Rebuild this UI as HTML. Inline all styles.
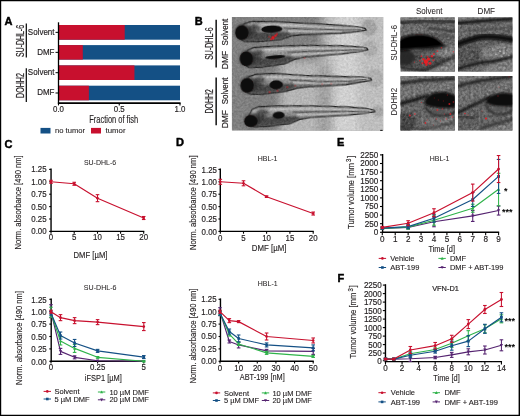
<!DOCTYPE html>
<html lang="en"><head><meta charset="utf-8"><title>Figure</title>
<style>
html,body{margin:0;padding:0;background:#fff;}
body{width:520px;height:416px;overflow:hidden;position:relative;}
svg{position:absolute;left:0;top:0;display:block;font-family:"Liberation Sans",sans-serif;}
</style></head><body>
<svg width="520" height="416" viewBox="0 0 520 416">
<path d="M0 0H520V416H0Z M1.2 1.2V414.65H518.6V1.2Z" fill="#000" fill-rule="evenodd"/>
<text x="4.5" y="24.6" font-size="11" font-weight="bold" fill="#000" stroke="#000" stroke-width="0.45" stroke-linejoin="round">A</text>
<text x="194.7" y="24.6" font-size="11" font-weight="bold" fill="#000" stroke="#000" stroke-width="0.45" stroke-linejoin="round">B</text>
<text x="4.4" y="147.9" font-size="11" font-weight="bold" fill="#000" stroke="#000" stroke-width="0.45" stroke-linejoin="round">C</text>
<text x="175.9" y="146.4" font-size="11" font-weight="bold" fill="#000" stroke="#000" stroke-width="0.45" stroke-linejoin="round">D</text>
<text x="337.0" y="145.9" font-size="11" font-weight="bold" fill="#000" stroke="#000" stroke-width="0.45" stroke-linejoin="round">E</text>
<text x="337.6" y="282.4" font-size="11" font-weight="bold" fill="#000" stroke="#000" stroke-width="0.45" stroke-linejoin="round">F</text>
<rect x="58.50" y="25.00" width="121.50" height="14.70" fill="#145085"/>
<rect x="58.50" y="25.00" width="66.22" height="14.70" fill="#c8102e"/>
<line x1="55.50" y1="32.35" x2="58.50" y2="32.35" stroke="#000" stroke-width="1"/>
<text transform="translate(54.5 35.25) scale(0.87 1)" font-size="9.2" text-anchor="end" fill="#231f20" stroke="#231f20" stroke-width="0.18">Solvent</text>
<rect x="58.50" y="45.10" width="121.50" height="14.50" fill="#145085"/>
<rect x="58.50" y="45.10" width="24.30" height="14.50" fill="#c8102e"/>
<line x1="55.50" y1="52.35" x2="58.50" y2="52.35" stroke="#000" stroke-width="1"/>
<text transform="translate(54.5 55.25) scale(0.87 1)" font-size="9.2" text-anchor="end" fill="#231f20" stroke="#231f20" stroke-width="0.18">DMF</text>
<rect x="58.50" y="65.40" width="121.50" height="14.60" fill="#145085"/>
<rect x="58.50" y="65.40" width="75.94" height="14.60" fill="#c8102e"/>
<line x1="55.50" y1="72.70" x2="58.50" y2="72.70" stroke="#000" stroke-width="1"/>
<text transform="translate(54.5 74.80000000000001) scale(0.87 1)" font-size="9.2" text-anchor="end" fill="#231f20" stroke="#231f20" stroke-width="0.18">Solvent</text>
<rect x="58.50" y="85.70" width="121.50" height="14.60" fill="#145085"/>
<rect x="58.50" y="85.70" width="30.38" height="14.60" fill="#c8102e"/>
<line x1="55.50" y1="93.00" x2="58.50" y2="93.00" stroke="#000" stroke-width="1"/>
<text transform="translate(54.5 95.10000000000001) scale(0.87 1)" font-size="9.2" text-anchor="end" fill="#231f20" stroke="#231f20" stroke-width="0.18">DMF</text>
<line x1="58.50" y1="22.30" x2="58.50" y2="103.80" stroke="#000" stroke-width="1.3"/>
<line x1="57.90" y1="103.10" x2="180.60" y2="103.10" stroke="#000" stroke-width="1.6"/>
<line x1="58.50" y1="103.20" x2="58.50" y2="105.40" stroke="#000" stroke-width="1.1"/>
<text transform="translate(58.5 112.1) scale(0.915 1)" font-size="8.62" text-anchor="middle" fill="#231f20" stroke="#231f20" stroke-width="0.18">0.0</text>
<line x1="119.25" y1="103.20" x2="119.25" y2="105.40" stroke="#000" stroke-width="1.1"/>
<text transform="translate(119.25 112.1) scale(0.915 1)" font-size="8.62" text-anchor="middle" fill="#231f20" stroke="#231f20" stroke-width="0.18">0.5</text>
<line x1="180.00" y1="103.20" x2="180.00" y2="105.40" stroke="#000" stroke-width="1.1"/>
<text transform="translate(180.0 112.1) scale(0.915 1)" font-size="8.62" text-anchor="middle" fill="#231f20" stroke="#231f20" stroke-width="0.18">1.0</text>
<text transform="translate(113.7 123)" font-size="10.35" text-anchor="middle" textLength="49" lengthAdjust="spacingAndGlyphs" fill="#231f20" stroke="#231f20" stroke-width="0.14">Fraction of fish</text>
<rect x="40.50" y="127.90" width="10.00" height="5.60" fill="#145085"/>
<text transform="translate(55 133.3)" font-size="7.6" textLength="30" lengthAdjust="spacingAndGlyphs" fill="#231f20" stroke="#231f20" stroke-width="0.1">no tumor</text>
<rect x="91.00" y="127.90" width="10.00" height="5.60" fill="#c8102e"/>
<text transform="translate(105.5 133.3)" font-size="7.6" textLength="20" lengthAdjust="spacingAndGlyphs" fill="#231f20" stroke="#231f20" stroke-width="0.1">tumor</text>
<line x1="26.30" y1="23.50" x2="26.30" y2="57.50" stroke="#000" stroke-width="1.2"/>
<line x1="26.30" y1="68.20" x2="26.30" y2="102.00" stroke="#000" stroke-width="1.2"/>
<text transform="translate(23.7 41) rotate(-90)" font-size="10.7" text-anchor="middle" textLength="32" lengthAdjust="spacingAndGlyphs" fill="#231f20" stroke="#231f20" stroke-width="0.22">SU-DHL-6</text>
<text transform="translate(23.7 85.5) rotate(-90)" font-size="10.7" text-anchor="middle" textLength="25" lengthAdjust="spacingAndGlyphs" fill="#231f20" stroke="#231f20" stroke-width="0.22">DOHH2</text>
<defs><filter id="b1" x="-30%" y="-30%" width="160%" height="160%"><feGaussianBlur stdDeviation="1.4"/></filter><filter id="b2" x="-30%" y="-30%" width="160%" height="160%"><feGaussianBlur stdDeviation="0.55"/></filter><filter id="b3" x="-30%" y="-30%" width="160%" height="160%"><feGaussianBlur stdDeviation="4"/></filter><linearGradient id="fb" gradientUnits="userSpaceOnUse" x1="0" x2="0" y1="-11" y2="10"><stop offset="0" stop-color="#808080"/><stop offset="0.2" stop-color="#b2b2b2"/><stop offset="0.4" stop-color="#8e8e8e"/><stop offset="0.55" stop-color="#a8a8a8"/><stop offset="0.68" stop-color="#6a6a6a"/><stop offset="1" stop-color="#626262"/></linearGradient><filter id="nz2" x="0" y="0" width="100%" height="100%" color-interpolation-filters="sRGB"><feTurbulence type="fractalNoise" baseFrequency="0.45" numOctaves="2" seed="11"/><feColorMatrix type="matrix" values="1 1 1 0 -1.0  1 1 1 0 -1.0  1 1 1 0 -1.0  0 0 0 0 0.1"/><feGaussianBlur stdDeviation="0.5"/></filter><clipPath id="cB"><rect x="231.7" y="17.1" width="151.5" height="113.3"/></clipPath></defs>
<g clip-path="url(#cB)">
<rect x="231.70" y="17.00" width="152.00" height="114.00" fill="#808080"/>
<g filter="url(#b3)">
<rect x="280.00" y="60.00" width="120.00" height="80.00" fill="#bcbcbc"/>
<rect x="322.00" y="10.00" width="70.00" height="60.00" fill="#c0c0c0"/>
<rect x="318.00" y="66.00" width="13.00" height="80.00" fill="#a0a0a0"/>
<rect x="334.00" y="10.00" width="24.00" height="130.00" fill="#dadada"/>
<rect x="360.00" y="10.00" width="30.00" height="130.00" fill="#c6c6c6"/>
</g>
<g transform="translate(241.9 32.6) rotate(-1.66)">
<ellipse cx="127.15220497437812" cy="-1" rx="7" ry="7.5" fill="#a8a8a8" stroke="#8a8a8a" stroke-width="0.8" filter="url(#b4)"/>
<path d="M2.0 -8.3L9.0 -10.6L28.0 -10.4L58.1 -7.8L98.1 -4.6L115.2 -2.5L123.2 -0.7L124.2 1.2L115.2 2.3L98.1 3.6L60.1 3.8L49.1 4.9L38.0 8.2L14.0 9.6L2.0 8.8L-5.0 4.0Z" fill="url(#fb)" stroke="#1e1e1e" stroke-width="1.25" stroke-linejoin="round" filter="url(#b2)"/>
<path d="M6.0 -1L46.1 0.5L48.1 4L37.0 7.4L14.0 8.6L4.0 7Z" fill="#3e3e3e" opacity="0.9" filter="url(#b4)"/>
<ellipse cx="12.0" cy="-2.5" rx="6.5" ry="5.5" fill="#333" opacity="0.8" filter="url(#b4)"/>
<ellipse cx="17.0" cy="-1.5" rx="3" ry="2.6" fill="#8a8a8a" opacity="0.6" filter="url(#b4)"/>
<path d="M20.0 -7.4L60.1 -4.8L100.1 -1.6L120.2 -0.4" fill="none" stroke="#c8c8c8" stroke-width="1.5" opacity="0.85" filter="url(#b2)"/>
<path d="M42.1 -3.2L70.1 -1.2L100.1 0.2L119.2 0.3" fill="none" stroke="#3a3a3a" stroke-width="1.0" opacity="0.8" filter="url(#b2)"/>
<path d="M46.1 -0.4L70.1 1.2L100.1 1.6" fill="none" stroke="#c4c4c4" stroke-width="1.3" opacity="0.8" filter="url(#b2)"/>
</g>
<g transform="translate(246.4 58.8) rotate(-4.62)">
<ellipse cx="123.79490958164057" cy="0" rx="6.5" ry="7" fill="#b4b4b4" stroke="#8a8a8a" stroke-width="0.8" filter="url(#b4)"/>
<path d="M2.0 -8.3L8.8 -10.6L27.5 -10.4L57.0 -8.6L96.3 -5.4L112.8 -2.8L120.8 -1.0L121.8 0.9L112.8 2.0L96.3 2.8L58.9 3.0L48.1 4.4L37.3 8.2L13.8 9.6L2.0 8.8L-4.9 4.0Z" fill="url(#fb)" stroke="#1e1e1e" stroke-width="1.25" stroke-linejoin="round" filter="url(#b2)"/>
<path d="M5.9 -1L45.2 0.5L47.1 4L36.3 7.4L13.8 8.6L3.9 7Z" fill="#3e3e3e" opacity="0.9" filter="url(#b4)"/>
<ellipse cx="11.8" cy="-2.5" rx="6.5" ry="5.5" fill="#333" opacity="0.8" filter="url(#b4)"/>
<ellipse cx="16.7" cy="-1.5" rx="3" ry="2.6" fill="#8a8a8a" opacity="0.6" filter="url(#b4)"/>
<path d="M19.6 -7.4L58.9 -5.6L98.2 -2.4L117.8 -0.4" fill="none" stroke="#c8c8c8" stroke-width="1.5" opacity="0.85" filter="url(#b2)"/>
<path d="M41.3 -3.2L68.8 -2.0L98.2 -0.6L116.8 0.3" fill="none" stroke="#3a3a3a" stroke-width="1.0" opacity="0.8" filter="url(#b2)"/>
<path d="M45.2 -0.4L68.8 0.4L98.2 0.8" fill="none" stroke="#c4c4c4" stroke-width="1.3" opacity="0.8" filter="url(#b2)"/>
</g>
<g transform="translate(247.2 85.4) rotate(-3.17)">
<ellipse cx="127.69105821990605" cy="0" rx="7" ry="8" fill="#b8b8b8" stroke="#8a8a8a" stroke-width="0.8" filter="url(#b4)"/>
<path d="M2.0 -8.3L9.1 -10.6L28.2 -10.4L58.3 -6.6L98.5 -3.4L115.7 -2.0L123.7 -0.2L124.7 1.7L115.7 2.8L98.5 4.8L60.3 5.0L49.3 5.6L38.2 8.2L14.1 9.6L2.0 8.8L-5.0 4.0Z" fill="url(#fb)" stroke="#1e1e1e" stroke-width="1.25" stroke-linejoin="round" filter="url(#b2)"/>
<path d="M6.0 -1L46.3 0.5L48.3 4L37.2 7.4L14.1 8.6L4.0 7Z" fill="#3e3e3e" opacity="0.9" filter="url(#b4)"/>
<ellipse cx="12.1" cy="-2.5" rx="6.5" ry="5.5" fill="#333" opacity="0.8" filter="url(#b4)"/>
<ellipse cx="17.1" cy="-1.5" rx="3" ry="2.6" fill="#8a8a8a" opacity="0.6" filter="url(#b4)"/>
<path d="M20.1 -7.4L60.3 -3.6L100.6 -0.4L120.7 -0.4" fill="none" stroke="#c8c8c8" stroke-width="1.5" opacity="0.85" filter="url(#b2)"/>
<path d="M42.2 -3.2L70.4 0.0L100.6 1.4L119.7 0.3" fill="none" stroke="#3a3a3a" stroke-width="1.0" opacity="0.8" filter="url(#b2)"/>
<path d="M46.3 -0.4L70.4 2.4L100.6 2.8" fill="none" stroke="#c4c4c4" stroke-width="1.3" opacity="0.8" filter="url(#b2)"/>
</g>
<g transform="translate(250.7 117.8) rotate(-3.23)">
<ellipse cx="127.7972646521234" cy="1" rx="4.8" ry="4.8" fill="#acacac" stroke="#8a8a8a" stroke-width="0.8" filter="url(#b4)"/>
<path d="M2.0 -8.3L9.0 -10.6L28.1 -10.4L58.1 -8.6L98.2 -5.4L115.3 -2.8L123.3 -1.0L124.3 0.9L115.3 2.0L98.2 2.8L60.1 3.0L49.1 4.4L38.1 8.2L14.0 9.6L2.0 8.8L-5.0 4.0Z" fill="url(#fb)" stroke="#1e1e1e" stroke-width="1.25" stroke-linejoin="round" filter="url(#b2)"/>
<path d="M6.0 -1L46.1 0.5L48.1 4L37.1 7.4L14.0 8.6L4.0 7Z" fill="#3e3e3e" opacity="0.9" filter="url(#b4)"/>
<ellipse cx="12.0" cy="-2.5" rx="6.5" ry="5.5" fill="#333" opacity="0.8" filter="url(#b4)"/>
<ellipse cx="17.0" cy="-1.5" rx="3" ry="2.6" fill="#8a8a8a" opacity="0.6" filter="url(#b4)"/>
<path d="M20.0 -7.4L60.1 -5.6L100.2 -2.4L120.3 -0.4" fill="none" stroke="#c8c8c8" stroke-width="1.5" opacity="0.85" filter="url(#b2)"/>
<path d="M42.1 -3.2L70.2 -2.0L100.2 -0.6L119.3 0.3" fill="none" stroke="#3a3a3a" stroke-width="1.0" opacity="0.8" filter="url(#b2)"/>
<path d="M46.1 -0.4L70.2 0.4L100.2 0.8" fill="none" stroke="#c4c4c4" stroke-width="1.3" opacity="0.8" filter="url(#b2)"/>
</g>
<rect x="231" y="16" width="153" height="115" filter="url(#nz2)"/>
<g transform="translate(241.9 32.6) rotate(-1.66)">
<ellipse cx="30" cy="-2.6" rx="10.5" ry="3.6" fill="#0f0b0b" filter="url(#b2)"/>
<ellipse cx="1.5" cy="-0.5" rx="8.6" ry="8.2" fill="#2a2a2a" opacity="0.7" filter="url(#b4)"/>
<ellipse cx="0" cy="0" rx="6.6" ry="7.3" fill="#0b0909" filter="url(#b2)"/>
<circle cx="31" cy="6" r="1.7" fill="#e8141c" opacity="0.95" filter="url(#b2)"/>
<circle cx="33.5" cy="4" r="1.2" fill="#e8141c" opacity="0.9" filter="url(#b2)"/>
<circle cx="29" cy="7.5" r="1.0" fill="#e8141c" opacity="0.8" filter="url(#b2)"/>
<circle cx="35" cy="2.5" r="0.9" fill="#e8141c" opacity="0.8" filter="url(#b2)"/>
<circle cx="27" cy="5" r="0.8" fill="#e8141c" opacity="0.6" filter="url(#b2)"/>
</g>
<g transform="translate(246.4 58.8) rotate(-4.62)">
<ellipse cx="29" cy="0.6" rx="10" ry="1.8" fill="#0f0b0b" filter="url(#b2)"/>
<ellipse cx="1.5" cy="-0.5" rx="8.6" ry="8.2" fill="#2a2a2a" opacity="0.7" filter="url(#b4)"/>
<ellipse cx="0" cy="0" rx="6.6" ry="7.3" fill="#0b0909" filter="url(#b2)"/>
<circle cx="58" cy="4" r="0.7" fill="#e8141c" opacity="0.6" filter="url(#b2)"/>
</g>
<g transform="translate(247.2 85.4) rotate(-3.17)">
<ellipse cx="29" cy="1" rx="6.8" ry="4.4" fill="#0f0b0b" filter="url(#b2)"/>
<ellipse cx="1.5" cy="-0.5" rx="8.6" ry="8.2" fill="#2a2a2a" opacity="0.7" filter="url(#b4)"/>
<ellipse cx="0" cy="0" rx="6.6" ry="7.3" fill="#0b0909" filter="url(#b2)"/>
<circle cx="22" cy="8" r="1.0" fill="#e8141c" opacity="0.5" filter="url(#b2)"/>
<circle cx="30" cy="7" r="0.9" fill="#e8141c" opacity="0.5" filter="url(#b2)"/>
<circle cx="40" cy="4" r="0.9" fill="#e8141c" opacity="0.5" filter="url(#b2)"/>
<circle cx="48" cy="3" r="0.8" fill="#e8141c" opacity="0.5" filter="url(#b2)"/>
<circle cx="75" cy="3" r="0.7" fill="#e8141c" opacity="0.5" filter="url(#b2)"/>
<circle cx="84" cy="3" r="0.7" fill="#e8141c" opacity="0.5" filter="url(#b2)"/>
</g>
<g transform="translate(250.7 117.8) rotate(-3.23)">
<ellipse cx="28" cy="-1.0" rx="6.0" ry="3.6" fill="#0f0b0b" filter="url(#b2)"/>
<ellipse cx="1.5" cy="2.7" rx="8.6" ry="6.9" fill="#2a2a2a" opacity="0.7" filter="url(#b4)"/>
<ellipse cx="0" cy="3.2" rx="6.6" ry="6.0" fill="#0b0909" filter="url(#b2)"/>
</g>
</g>
<defs><clipPath id="cP"><rect x="0" y="0" width="54.4" height="54.4"/></clipPath><filter id="b4" x="-30%" y="-30%" width="160%" height="160%"><feGaussianBlur stdDeviation="0.9"/></filter><filter id="nz" x="0" y="0" width="100%" height="100%" color-interpolation-filters="sRGB"><feTurbulence type="fractalNoise" baseFrequency="0.38" numOctaves="2" seed="7"/><feColorMatrix type="matrix" values="1 1 1 0 -1.1  1 1 1 0 -1.1  1 1 1 0 -1.1  0 0 0 0 0.22"/><feGaussianBlur stdDeviation="0.6"/></filter></defs>
<rect x="380.20" y="129.90" width="2.40" height="1.00" fill="#1a1a1a"/>
<g transform="translate(400.4 17.2)" clip-path="url(#cP)">
<rect x="0.00" y="0.00" width="55.00" height="55.00" fill="#626262"/>
<path d="M-2 0H56V3L-2 4Z" fill="#828282" filter="url(#b4)"/>
<path d="M-2 9H56V19L30 16L-2 19Z" fill="#707070" filter="url(#b4)"/>
<path d="M-2 36V47L20 54H56V40Z" fill="#4c4c4c" filter="url(#b4)"/>
<path d="M37 29L56 28V40L46 41L36 37Z" fill="#848484" filter="url(#b4)"/>
<path d="M27 54L56 41V56H24Z" fill="#898989" filter="url(#b4)"/>
<rect x="0" y="0" width="55" height="55" filter="url(#nz)"/>
<path d="M-2 5.4C15 4 35 3.6 56 4.6" fill="none" stroke="#1c1c1c" stroke-width="2.2" stroke-linecap="round" filter="url(#b4)"/>
<path d="M28 11L56 14.5" fill="none" stroke="#2a2a2a" stroke-width="1.7" stroke-linecap="round" filter="url(#b4)"/>
<path d="M35 17L56 20" fill="none" stroke="#404040" stroke-width="1.2" stroke-linecap="round" filter="url(#b4)"/>
<path d="M-2 49L10 52L25 53L40 46L56 38" fill="none" stroke="#222" stroke-width="2" stroke-linecap="round" filter="url(#b4)"/>
<path d="M-2 31L9 32L16 39L10 48L-2 48Z" fill="#262626" opacity="0.95" filter="url(#b4)"/>
<path d="M-3 23C2 19 10 17 18 17C26 17 34 18 40 24C43 27 45 28 46 29C40 31 30 32 20 32C10 32 2 34 -3 35Z" fill="#0b0909" filter="url(#b4)"/>
<path d="M0 24C6 20 12 19 20 19C28 19 35 21 41 27C34 29 10 30 0 31Z" fill="#060505" filter="url(#b2)"/>
<path d="M16 35C24 34 34 33 46 29" fill="none" stroke="#333" stroke-width="2.2" stroke-linecap="round" opacity="0.7" filter="url(#b4)"/>
<circle cx="25.5" cy="44.5" r="2.2" fill="#ee1c24" opacity="0.95" filter="url(#b2)"/>
<circle cx="28" cy="42" r="1.6" fill="#ee1c24" opacity="0.9" filter="url(#b2)"/>
<circle cx="23" cy="42" r="1.3" fill="#ee1c24" opacity="0.85" filter="url(#b2)"/>
<circle cx="29.5" cy="46" r="1.5" fill="#ee1c24" opacity="0.85" filter="url(#b2)"/>
<circle cx="26" cy="47.5" r="1.3" fill="#ee1c24" opacity="0.8" filter="url(#b2)"/>
<circle cx="22" cy="46" r="1.0" fill="#ee1c24" opacity="0.8" filter="url(#b2)"/>
<circle cx="31.5" cy="39" r="1.2" fill="#ee1c24" opacity="0.8" filter="url(#b2)"/>
<circle cx="33.5" cy="36.8" r="1.1" fill="#ee1c24" opacity="0.75" filter="url(#b2)"/>
<circle cx="21" cy="39" r="0.9" fill="#ee1c24" opacity="0.7" filter="url(#b2)"/>
<circle cx="19.5" cy="43.5" r="0.8" fill="#ee1c24" opacity="0.7" filter="url(#b2)"/>
<circle cx="37" cy="34" r="0.9" fill="#ee1c24" opacity="0.65" filter="url(#b2)"/>
<circle cx="41" cy="30.5" r="0.8" fill="#ee1c24" opacity="0.6" filter="url(#b2)"/>
<circle cx="33" cy="43" r="1.0" fill="#ee1c24" opacity="0.7" filter="url(#b2)"/>
<circle cx="53" cy="34.5" r="0.7" fill="#ee1c24" opacity="0.6" filter="url(#b2)"/>
<circle cx="14" cy="45" r="0.6" fill="#ee1c24" opacity="0.5" filter="url(#b2)"/>
<circle cx="27" cy="39.5" r="0.9" fill="#ee1c24" opacity="0.7" filter="url(#b2)"/>
</g>
<g transform="translate(458 17.2)" clip-path="url(#cP)">
<rect x="0.00" y="0.00" width="55.00" height="55.00" fill="#606060"/>
<path d="M-2 0H56V0.6L-2 3.6Z" fill="#808080" filter="url(#b4)"/>
<path d="M-2 10L56 5V16L25 17L-2 22Z" fill="#696969" filter="url(#b4)"/>
<path d="M24 31L40 27L56 27V41L30 43L24 40Z" fill="#808080" filter="url(#b4)"/>
<path d="M-2 31L20 28L24 44L-2 50Z" fill="#505050" filter="url(#b4)"/>
<path d="M30 48L56 42V56H10Z" fill="#848484" filter="url(#b4)"/>
<path d="M-2 56H20L30 50L-2 55Z" fill="#6d6d6d" filter="url(#b4)"/>
<rect x="0" y="0" width="55" height="55" filter="url(#nz)"/>
<path d="M-2 6C12 5 35 2.4 56 1.6" fill="none" stroke="#141414" stroke-width="2.8" stroke-linecap="round" filter="url(#b4)"/>
<path d="M10 13.5C30 13 45 10.5 56 10.5" fill="none" stroke="#3a3a3a" stroke-width="1.1" stroke-linecap="round" filter="url(#b4)"/>
<path d="M-2 28C6 25 14 22 20 20.5C30 18.6 40 20 56 23" fill="none" stroke="#2a2a2a" stroke-width="6.5" stroke-linecap="round" opacity="0.7" filter="url(#b4)"/>
<path d="M-2 27.5C6 24.5 14 22 22 20C30 18.6 42 20 56 22.6" fill="none" stroke="#0b0b0b" stroke-width="4.4" stroke-linecap="round" filter="url(#b4)"/>
<path d="M-2 52.5C8 49 16 46 26 45C36 44 46 42.5 56 38.8" fill="none" stroke="#151515" stroke-width="2.6" stroke-linecap="round" filter="url(#b4)"/>
<circle cx="42" cy="34" r="0.8" fill="#dcdcdc" opacity="0.9" filter="url(#b2)"/>
<circle cx="46" cy="36" r="0.7" fill="#dcdcdc" opacity="0.9" filter="url(#b2)"/>
<circle cx="38" cy="37" r="0.7" fill="#dcdcdc" opacity="0.8" filter="url(#b2)"/>
<circle cx="49" cy="33" r="0.6" fill="#dcdcdc" opacity="0.8" filter="url(#b2)"/>
<circle cx="44" cy="39" r="0.6" fill="#dcdcdc" opacity="0.8" filter="url(#b2)"/>
<circle cx="35" cy="33" r="0.6" fill="#dcdcdc" opacity="0.7" filter="url(#b2)"/>
<circle cx="51" cy="38" r="0.6" fill="#dcdcdc" opacity="0.8" filter="url(#b2)"/>
<circle cx="40" cy="31" r="0.6" fill="#dcdcdc" opacity="0.7" filter="url(#b2)"/>
<circle cx="47" cy="30" r="0.6" fill="#dcdcdc" opacity="0.7" filter="url(#b2)"/>
</g>
<g transform="translate(400.4 76)" clip-path="url(#cP)">
<rect x="0.00" y="0.00" width="55.00" height="55.00" fill="#646464"/>
<path d="M-2 0H56V1.6L-2 5Z" fill="#7d7d7d" filter="url(#b4)"/>
<path d="M-2 11L56 5V14L24 17L-2 24Z" fill="#767676" filter="url(#b4)"/>
<path d="M-2 38L12 36L16 46L10 56H-2Z" fill="#3e3e3e" filter="url(#b4)"/>
<path d="M20 44L56 40V50L30 52Z" fill="#727272" filter="url(#b4)"/>
<path d="M16 56L56 49V56Z" fill="#808080" filter="url(#b4)"/>
<rect x="0" y="0" width="55" height="55" filter="url(#nz)"/>
<path d="M-2 8C10 5.6 30 3.4 56 2.4" fill="none" stroke="#1a1a1a" stroke-width="2.3" stroke-linecap="round" filter="url(#b4)"/>
<path d="M-2 28C8 26 16 23.5 26 20" fill="none" stroke="#141414" stroke-width="3" stroke-linecap="round" filter="url(#b4)"/>
<path d="M24 26C25 20 32 16 41 16C48 16 54 18.6 57 21V31C50 32.6 40 32.6 32 31C27 30 24 29 24 26Z" fill="#0a0808" filter="url(#b4)"/>
<path d="M25 31C28 38 38 41.5 50 38.5C53 37.5 55 35 56 33" fill="none" stroke="#222" stroke-width="2" stroke-linecap="round" filter="url(#b4)"/>
<path d="M31 34L50 33.5L45 38L35 38Z" fill="#525252" opacity="0.8" filter="url(#b4)"/>
<path d="M-2 51L10 52L24 53L40 50L56 46" fill="none" stroke="#3a3a3a" stroke-width="1.6" stroke-linecap="round" filter="url(#b4)"/>
<circle cx="9.5" cy="39.5" r="0.9" fill="#ee1c24" opacity="0.8" filter="url(#b2)"/>
<circle cx="14.5" cy="38" r="0.8" fill="#ee1c24" opacity="0.8" filter="url(#b2)"/>
<circle cx="21" cy="26.5" r="0.6" fill="#ee1c24" opacity="0.6" filter="url(#b2)"/>
<circle cx="37" cy="34" r="0.9" fill="#ee1c24" opacity="0.7" filter="url(#b2)"/>
<circle cx="42" cy="33" r="0.7" fill="#ee1c24" opacity="0.6" filter="url(#b2)"/>
<circle cx="49" cy="28" r="1.0" fill="#ee1c24" opacity="0.7" filter="url(#b2)"/>
<circle cx="53" cy="26" r="0.8" fill="#ee1c24" opacity="0.6" filter="url(#b2)"/>
<circle cx="47" cy="19" r="0.6" fill="#ee1c24" opacity="0.5" filter="url(#b2)"/>
<circle cx="50" cy="38" r="1.0" fill="#ee1c24" opacity="0.7" filter="url(#b2)"/>
<circle cx="52" cy="41" r="0.8" fill="#ee1c24" opacity="0.6" filter="url(#b2)"/>
<circle cx="44" cy="38" r="0.6" fill="#ee1c24" opacity="0.5" filter="url(#b2)"/>
<circle cx="36" cy="43" r="0.7" fill="#ee1c24" opacity="0.5" filter="url(#b2)"/>
<circle cx="40" cy="45" r="0.6" fill="#ee1c24" opacity="0.5" filter="url(#b2)"/>
<circle cx="25" cy="47" r="0.9" fill="#ee1c24" opacity="0.7" filter="url(#b2)"/>
<circle cx="27" cy="44" r="0.6" fill="#ee1c24" opacity="0.5" filter="url(#b2)"/>
<circle cx="33" cy="49" r="0.5" fill="#ee1c24" opacity="0.4" filter="url(#b2)"/>
<circle cx="46" cy="43" r="0.7" fill="#ee1c24" opacity="0.5" filter="url(#b2)"/>
<circle cx="38" cy="24" r="0.7" fill="#ee1c24" opacity="0.25" filter="url(#b2)"/>
<circle cx="43" cy="25" r="0.7" fill="#ee1c24" opacity="0.25" filter="url(#b2)"/>
<circle cx="34" cy="22" r="0.7" fill="#ee1c24" opacity="0.2" filter="url(#b2)"/>
</g>
<g transform="translate(458 76)" clip-path="url(#cP)">
<rect x="0.00" y="0.00" width="55.00" height="55.00" fill="#666666"/>
<path d="M-2 0H40L-2 8Z" fill="#7a7a7a" filter="url(#b4)"/>
<path d="M-2 15L56 4V14L24 20L-2 30Z" fill="#727272" filter="url(#b4)"/>
<path d="M-2 40L20 34L22 50L-2 54Z" fill="#5c5c5c" filter="url(#b4)"/>
<path d="M20 56L56 45V56Z" fill="#7e7e7e" filter="url(#b4)"/>
<rect x="0" y="0" width="55" height="55" filter="url(#nz)"/>
<path d="M-2 10.5C10 7 30 3 56 0.4" fill="none" stroke="#1a1a1a" stroke-width="2.5" stroke-linecap="round" filter="url(#b4)"/>
<path d="M-2 37.5C8 33 18 28 31 21.5" fill="none" stroke="#181818" stroke-width="2.8" stroke-linecap="round" filter="url(#b4)"/>
<path d="M28 24.5C30 19.5 38 17 46 17C52 17 56 18 58 19V30C50 31 41 31 35 29.5C31 28.5 27.5 27.5 28 24.5Z" fill="#0a0808" filter="url(#b4)"/>
<path d="M28 28C29 36 38 40.5 48 37.5C52 36.3 55 33.5 56 31.5" fill="none" stroke="#262626" stroke-width="2" stroke-linecap="round" filter="url(#b4)"/>
<path d="M33 30.5L52 31L46 35.5L36 35Z" fill="#545454" opacity="0.8" filter="url(#b4)"/>
<path d="M23 30C21 38 25 46 23 54" fill="none" stroke="#484848" stroke-width="1.4" stroke-linecap="round" filter="url(#b4)"/>
<path d="M-2 41C4 40.4 10 40 16 42" fill="none" stroke="#2c2c2c" stroke-width="2" stroke-linecap="round" filter="url(#b4)"/>
<path d="M24 52L40 47L56 42.5" fill="none" stroke="#2e2e2e" stroke-width="2.2" stroke-linecap="round" filter="url(#b4)"/>
<circle cx="28" cy="42.5" r="1.1" fill="#ee1c24" opacity="0.85" filter="url(#b2)"/>
<circle cx="7" cy="37.5" r="0.8" fill="#ee1c24" opacity="0.7" filter="url(#b2)"/>
<circle cx="10" cy="39" r="0.6" fill="#ee1c24" opacity="0.5" filter="url(#b2)"/>
<circle cx="40" cy="20" r="0.7" fill="#ee1c24" opacity="0.4" filter="url(#b2)"/>
<circle cx="41" cy="11" r="0.6" fill="#ee1c24" opacity="0.4" filter="url(#b2)"/>
<circle cx="24" cy="35" r="0.6" fill="#ee1c24" opacity="0.4" filter="url(#b2)"/>
<circle cx="51" cy="0.8" r="0.6" fill="#ee1c24" opacity="0.5" filter="url(#b2)"/>
</g>
<text transform="translate(429.3 14.2)" font-size="9" text-anchor="middle" textLength="26.5" lengthAdjust="spacingAndGlyphs" fill="#231f20" stroke="#231f20" stroke-width="0.05">Solvent</text>
<text transform="translate(486.3 14.2)" font-size="9" text-anchor="middle" textLength="17.5" lengthAdjust="spacingAndGlyphs" fill="#231f20" stroke="#231f20" stroke-width="0.05">DMF</text>
<text transform="translate(396.7 42.8) rotate(-90)" font-size="8.9" text-anchor="middle" textLength="35.4" lengthAdjust="spacingAndGlyphs" fill="#231f20" stroke="#231f20" stroke-width="0.05">SU-DHL-6</text>
<text transform="translate(396.9 101.6) rotate(-90)" font-size="8.9" text-anchor="middle" textLength="27.6" lengthAdjust="spacingAndGlyphs" fill="#231f20" stroke="#231f20" stroke-width="0.05">DOHH2</text>
<line x1="216.15" y1="19.80" x2="216.15" y2="67.40" stroke="#000" stroke-width="1.4"/>
<line x1="216.15" y1="77.40" x2="216.15" y2="125.20" stroke="#000" stroke-width="1.4"/>
<text transform="translate(213.3 43.6) rotate(-90)" font-size="10.58" text-anchor="middle" textLength="32.5" lengthAdjust="spacingAndGlyphs" fill="#231f20" stroke="#231f20" stroke-width="0.2">SU-DHL-6</text>
<text transform="translate(213.3 101.3) rotate(-90)" font-size="10.58" text-anchor="middle" textLength="24.3" lengthAdjust="spacingAndGlyphs" fill="#231f20" stroke="#231f20" stroke-width="0.2">DOHH2</text>
<text transform="translate(228.0 32.1) rotate(-90) scale(0.93 1)" font-size="8.62" text-anchor="middle" fill="#231f20" stroke="#231f20" stroke-width="0.18">Solvent</text>
<text transform="translate(228.0 60) rotate(-90) scale(0.98 1)" font-size="8.62" text-anchor="middle" fill="#231f20" stroke="#231f20" stroke-width="0.18">DMF</text>
<text transform="translate(228.0 91) rotate(-90) scale(0.93 1)" font-size="8.62" text-anchor="middle" fill="#231f20" stroke="#231f20" stroke-width="0.18">Solvent</text>
<text transform="translate(228.0 119.2) rotate(-90) scale(0.98 1)" font-size="8.62" text-anchor="middle" fill="#231f20" stroke="#231f20" stroke-width="0.18">DMF</text>
<line x1="51.05" y1="168.50" x2="51.05" y2="232.10" stroke="#000" stroke-width="1.4"/>
<line x1="50.35" y1="231.40" x2="144.30" y2="231.40" stroke="#000" stroke-width="1.4"/>
<line x1="49.15" y1="231.40" x2="51.05" y2="231.40" stroke="#000" stroke-width="1.1"/>
<text transform="translate(46.6 234.38774999999998) scale(0.915 1)" font-size="8.62" text-anchor="end" fill="#231f20" stroke="#231f20" stroke-width="0.18">0.00</text>
<line x1="49.15" y1="219.00" x2="51.05" y2="219.00" stroke="#000" stroke-width="1.1"/>
<text transform="translate(46.6 221.98774999999998) scale(0.915 1)" font-size="8.62" text-anchor="end" fill="#231f20" stroke="#231f20" stroke-width="0.18">0.25</text>
<line x1="49.15" y1="206.60" x2="51.05" y2="206.60" stroke="#000" stroke-width="1.1"/>
<text transform="translate(46.6 209.58774999999997) scale(0.915 1)" font-size="8.62" text-anchor="end" fill="#231f20" stroke="#231f20" stroke-width="0.18">0.50</text>
<line x1="49.15" y1="194.20" x2="51.05" y2="194.20" stroke="#000" stroke-width="1.1"/>
<text transform="translate(46.6 197.18774999999997) scale(0.915 1)" font-size="8.62" text-anchor="end" fill="#231f20" stroke="#231f20" stroke-width="0.18">0.75</text>
<line x1="49.15" y1="181.80" x2="51.05" y2="181.80" stroke="#000" stroke-width="1.1"/>
<text transform="translate(46.6 184.78775) scale(0.915 1)" font-size="8.62" text-anchor="end" fill="#231f20" stroke="#231f20" stroke-width="0.18">1.00</text>
<line x1="49.15" y1="169.40" x2="51.05" y2="169.40" stroke="#000" stroke-width="1.1"/>
<text transform="translate(46.6 172.38774999999998) scale(0.915 1)" font-size="8.62" text-anchor="end" fill="#231f20" stroke="#231f20" stroke-width="0.18">1.25</text>
<line x1="51.00" y1="231.40" x2="51.00" y2="233.70" stroke="#000" stroke-width="1.1"/>
<text transform="translate(51.0 240.1) scale(0.915 1)" font-size="8.62" text-anchor="middle" fill="#231f20" stroke="#231f20" stroke-width="0.18">0</text>
<line x1="74.20" y1="231.40" x2="74.20" y2="233.70" stroke="#000" stroke-width="1.1"/>
<text transform="translate(74.2 240.1) scale(0.915 1)" font-size="8.62" text-anchor="middle" fill="#231f20" stroke="#231f20" stroke-width="0.18">5</text>
<line x1="97.50" y1="231.40" x2="97.50" y2="233.70" stroke="#000" stroke-width="1.1"/>
<text transform="translate(97.5 240.1) scale(0.915 1)" font-size="8.62" text-anchor="middle" fill="#231f20" stroke="#231f20" stroke-width="0.18">10</text>
<line x1="120.60" y1="231.40" x2="120.60" y2="233.70" stroke="#000" stroke-width="1.1"/>
<text transform="translate(120.6 240.1) scale(0.915 1)" font-size="8.62" text-anchor="middle" fill="#231f20" stroke="#231f20" stroke-width="0.18">15</text>
<line x1="143.70" y1="231.40" x2="143.70" y2="233.70" stroke="#000" stroke-width="1.1"/>
<text transform="translate(143.7 240.1) scale(0.915 1)" font-size="8.62" text-anchor="middle" fill="#231f20" stroke="#231f20" stroke-width="0.18">20</text>
<text transform="translate(100 165.0) scale(0.885 1)" font-size="7.91" text-anchor="middle" fill="#231f20" stroke="#231f20" stroke-width="0.05">SU-DHL-6</text>
<text transform="translate(90.5 258)" font-size="9.77" text-anchor="middle" textLength="34" lengthAdjust="spacingAndGlyphs" fill="#231f20" stroke="#231f20" stroke-width="0.14">DMF [µM]</text>
<text transform="translate(21.4 202.4) rotate(-90)" font-size="9.77" text-anchor="middle" textLength="94" lengthAdjust="spacingAndGlyphs" fill="#231f20" stroke="#231f20" stroke-width="0.14">Norm. absorbance [490 nm]</text>
<path d="M51.00 181.80L74.20 183.78L97.50 198.17L143.70 218.01" fill="none" stroke="#c8102e" stroke-width="1.15" stroke-linejoin="round"/>
<line x1="51.00" y1="180.30" x2="51.00" y2="183.30" stroke="#c8102e" stroke-width="1.05"/>
<line x1="49.20" y1="180.30" x2="52.80" y2="180.30" stroke="#c8102e" stroke-width="1.1"/>
<line x1="49.20" y1="183.30" x2="52.80" y2="183.30" stroke="#c8102e" stroke-width="1.1"/>
<circle cx="51.00" cy="181.80" r="1.3" fill="#c8102e"/>
<line x1="74.20" y1="182.28" x2="74.20" y2="185.28" stroke="#c8102e" stroke-width="1.05"/>
<line x1="72.40" y1="182.28" x2="76.00" y2="182.28" stroke="#c8102e" stroke-width="1.1"/>
<line x1="72.40" y1="185.28" x2="76.00" y2="185.28" stroke="#c8102e" stroke-width="1.1"/>
<circle cx="74.20" cy="183.78" r="1.3" fill="#c8102e"/>
<line x1="97.50" y1="194.67" x2="97.50" y2="201.67" stroke="#c8102e" stroke-width="1.05"/>
<line x1="95.70" y1="194.67" x2="99.30" y2="194.67" stroke="#c8102e" stroke-width="1.1"/>
<line x1="95.70" y1="201.67" x2="99.30" y2="201.67" stroke="#c8102e" stroke-width="1.1"/>
<circle cx="97.50" cy="198.17" r="1.3" fill="#c8102e"/>
<line x1="143.70" y1="216.51" x2="143.70" y2="219.51" stroke="#c8102e" stroke-width="1.05"/>
<line x1="141.90" y1="216.51" x2="145.50" y2="216.51" stroke="#c8102e" stroke-width="1.1"/>
<line x1="141.90" y1="219.51" x2="145.50" y2="219.51" stroke="#c8102e" stroke-width="1.1"/>
<circle cx="143.70" cy="218.01" r="1.3" fill="#c8102e"/>
<line x1="51.20" y1="298.40" x2="51.20" y2="362.00" stroke="#000" stroke-width="1.4"/>
<line x1="50.50" y1="361.30" x2="144.40" y2="361.30" stroke="#000" stroke-width="1.4"/>
<line x1="49.30" y1="361.30" x2="51.20" y2="361.30" stroke="#000" stroke-width="1.1"/>
<text transform="translate(46.7 364.58774999999997) scale(0.915 1)" font-size="8.62" text-anchor="end" fill="#231f20" stroke="#231f20" stroke-width="0.18">0.00</text>
<line x1="49.30" y1="348.90" x2="51.20" y2="348.90" stroke="#000" stroke-width="1.1"/>
<text transform="translate(46.7 352.18775) scale(0.915 1)" font-size="8.62" text-anchor="end" fill="#231f20" stroke="#231f20" stroke-width="0.18">0.25</text>
<line x1="49.30" y1="336.50" x2="51.20" y2="336.50" stroke="#000" stroke-width="1.1"/>
<text transform="translate(46.7 339.78775) scale(0.915 1)" font-size="8.62" text-anchor="end" fill="#231f20" stroke="#231f20" stroke-width="0.18">0.50</text>
<line x1="49.30" y1="324.10" x2="51.20" y2="324.10" stroke="#000" stroke-width="1.1"/>
<text transform="translate(46.7 327.38775000000004) scale(0.915 1)" font-size="8.62" text-anchor="end" fill="#231f20" stroke="#231f20" stroke-width="0.18">0.75</text>
<line x1="49.30" y1="311.70" x2="51.20" y2="311.70" stroke="#000" stroke-width="1.1"/>
<text transform="translate(46.7 314.98774999999995) scale(0.915 1)" font-size="8.62" text-anchor="end" fill="#231f20" stroke="#231f20" stroke-width="0.18">1.00</text>
<line x1="49.30" y1="299.30" x2="51.20" y2="299.30" stroke="#000" stroke-width="1.1"/>
<text transform="translate(46.7 302.58774999999997) scale(0.915 1)" font-size="8.62" text-anchor="end" fill="#231f20" stroke="#231f20" stroke-width="0.18">1.25</text>
<line x1="51.00" y1="361.30" x2="51.00" y2="363.60" stroke="#000" stroke-width="1.1"/>
<text transform="translate(51.0 370.0) scale(0.915 1)" font-size="8.62" text-anchor="middle" fill="#231f20" stroke="#231f20" stroke-width="0.18">0</text>
<line x1="97.60" y1="361.30" x2="97.60" y2="363.60" stroke="#000" stroke-width="1.1"/>
<text transform="translate(97.6 370.0) scale(0.915 1)" font-size="8.62" text-anchor="middle" fill="#231f20" stroke="#231f20" stroke-width="0.18">0.25</text>
<line x1="143.80" y1="361.30" x2="143.80" y2="363.60" stroke="#000" stroke-width="1.1"/>
<text transform="translate(143.8 370.0) scale(0.915 1)" font-size="8.62" text-anchor="middle" fill="#231f20" stroke="#231f20" stroke-width="0.18">5</text>
<text transform="translate(100.2 289.7) scale(0.885 1)" font-size="8.02" text-anchor="middle" fill="#231f20" stroke="#231f20" stroke-width="0.05">SU-DHL-6</text>
<text transform="translate(103.3 381.0)" font-size="9.77" text-anchor="middle" textLength="37" lengthAdjust="spacingAndGlyphs" fill="#231f20" stroke="#231f20" stroke-width="0.14">iFSP1 [µM]</text>
<text transform="translate(21.7 338) rotate(-90)" font-size="9.77" text-anchor="middle" textLength="94" lengthAdjust="spacingAndGlyphs" fill="#231f20" stroke="#231f20" stroke-width="0.14">Norm. absorbance [490 nm]</text>
<path d="M51.00 311.70L60.50 351.38L74.60 357.33L97.60 360.80L143.80 361.30" fill="none" stroke="#552370" stroke-width="1.15" stroke-linejoin="round"/>
<line x1="51.00" y1="304.70" x2="51.00" y2="317.70" stroke="#552370" stroke-width="1.05"/>
<line x1="49.20" y1="304.70" x2="52.80" y2="304.70" stroke="#552370" stroke-width="1.1"/>
<line x1="49.20" y1="317.70" x2="52.80" y2="317.70" stroke="#552370" stroke-width="1.1"/>
<path d="M51.00 313.30L52.50 310.40L49.50 310.40Z" fill="#552370"/>
<line x1="60.50" y1="348.38" x2="60.50" y2="354.38" stroke="#552370" stroke-width="1.05"/>
<line x1="58.70" y1="348.38" x2="62.30" y2="348.38" stroke="#552370" stroke-width="1.1"/>
<line x1="58.70" y1="354.38" x2="62.30" y2="354.38" stroke="#552370" stroke-width="1.1"/>
<path d="M60.50 352.98L62.00 350.08L59.00 350.08Z" fill="#552370"/>
<line x1="74.60" y1="355.83" x2="74.60" y2="358.83" stroke="#552370" stroke-width="1.05"/>
<line x1="72.80" y1="355.83" x2="76.40" y2="355.83" stroke="#552370" stroke-width="1.1"/>
<line x1="72.80" y1="358.83" x2="76.40" y2="358.83" stroke="#552370" stroke-width="1.1"/>
<path d="M74.60 358.93L76.10 356.03L73.10 356.03Z" fill="#552370"/>
<path d="M97.60 362.40L99.10 359.50L96.10 359.50Z" fill="#552370"/>
<path d="M143.80 362.90L145.30 360.00L142.30 360.00Z" fill="#552370"/>
<path d="M51.00 313.19L60.50 340.96L74.60 348.40L97.60 357.33L143.80 361.30" fill="none" stroke="#2fb34a" stroke-width="1.15" stroke-linejoin="round"/>
<line x1="51.00" y1="307.19" x2="51.00" y2="317.19" stroke="#2fb34a" stroke-width="1.05"/>
<line x1="49.20" y1="307.19" x2="52.80" y2="307.19" stroke="#2fb34a" stroke-width="1.1"/>
<line x1="49.20" y1="317.19" x2="52.80" y2="317.19" stroke="#2fb34a" stroke-width="1.1"/>
<path d="M51.00 311.59L52.50 314.49L49.50 314.49Z" fill="#2fb34a"/>
<line x1="60.50" y1="336.96" x2="60.50" y2="344.96" stroke="#2fb34a" stroke-width="1.05"/>
<line x1="58.70" y1="336.96" x2="62.30" y2="336.96" stroke="#2fb34a" stroke-width="1.1"/>
<line x1="58.70" y1="344.96" x2="62.30" y2="344.96" stroke="#2fb34a" stroke-width="1.1"/>
<path d="M60.50 339.36L62.00 342.26L59.00 342.26Z" fill="#2fb34a"/>
<line x1="74.60" y1="344.40" x2="74.60" y2="352.40" stroke="#2fb34a" stroke-width="1.05"/>
<line x1="72.80" y1="344.40" x2="76.40" y2="344.40" stroke="#2fb34a" stroke-width="1.1"/>
<line x1="72.80" y1="352.40" x2="76.40" y2="352.40" stroke="#2fb34a" stroke-width="1.1"/>
<path d="M74.60 346.80L76.10 349.70L73.10 349.70Z" fill="#2fb34a"/>
<line x1="97.60" y1="356.53" x2="97.60" y2="358.13" stroke="#2fb34a" stroke-width="1.05"/>
<line x1="95.80" y1="356.53" x2="99.40" y2="356.53" stroke="#2fb34a" stroke-width="1.1"/>
<line x1="95.80" y1="358.13" x2="99.40" y2="358.13" stroke="#2fb34a" stroke-width="1.1"/>
<path d="M97.60 355.73L99.10 358.63L96.10 358.63Z" fill="#2fb34a"/>
<line x1="143.80" y1="360.80" x2="143.80" y2="361.80" stroke="#2fb34a" stroke-width="1.05"/>
<line x1="142.00" y1="360.80" x2="145.60" y2="360.80" stroke="#2fb34a" stroke-width="1.1"/>
<line x1="142.00" y1="361.80" x2="145.60" y2="361.80" stroke="#2fb34a" stroke-width="1.1"/>
<path d="M143.80 359.70L145.30 362.60L142.30 362.60Z" fill="#2fb34a"/>
<path d="M51.00 313.19L60.50 335.51L74.60 342.95L97.60 350.88L143.80 357.08" fill="none" stroke="#145085" stroke-width="1.15" stroke-linejoin="round"/>
<line x1="51.00" y1="311.19" x2="51.00" y2="315.19" stroke="#145085" stroke-width="1.05"/>
<line x1="49.20" y1="311.19" x2="52.80" y2="311.19" stroke="#145085" stroke-width="1.1"/>
<line x1="49.20" y1="315.19" x2="52.80" y2="315.19" stroke="#145085" stroke-width="1.1"/>
<rect x="49.70" y="311.89" width="2.6" height="2.6" fill="#145085"/>
<line x1="60.50" y1="332.01" x2="60.50" y2="339.01" stroke="#145085" stroke-width="1.05"/>
<line x1="58.70" y1="332.01" x2="62.30" y2="332.01" stroke="#145085" stroke-width="1.1"/>
<line x1="58.70" y1="339.01" x2="62.30" y2="339.01" stroke="#145085" stroke-width="1.1"/>
<rect x="59.20" y="334.21" width="2.6" height="2.6" fill="#145085"/>
<line x1="74.60" y1="339.45" x2="74.60" y2="346.45" stroke="#145085" stroke-width="1.05"/>
<line x1="72.80" y1="339.45" x2="76.40" y2="339.45" stroke="#145085" stroke-width="1.1"/>
<line x1="72.80" y1="346.45" x2="76.40" y2="346.45" stroke="#145085" stroke-width="1.1"/>
<rect x="73.30" y="341.65" width="2.6" height="2.6" fill="#145085"/>
<line x1="97.60" y1="349.38" x2="97.60" y2="352.38" stroke="#145085" stroke-width="1.05"/>
<line x1="95.80" y1="349.38" x2="99.40" y2="349.38" stroke="#145085" stroke-width="1.1"/>
<line x1="95.80" y1="352.38" x2="99.40" y2="352.38" stroke="#145085" stroke-width="1.1"/>
<rect x="96.30" y="349.58" width="2.6" height="2.6" fill="#145085"/>
<line x1="143.80" y1="355.58" x2="143.80" y2="358.58" stroke="#145085" stroke-width="1.05"/>
<line x1="142.00" y1="355.58" x2="145.60" y2="355.58" stroke="#145085" stroke-width="1.1"/>
<line x1="142.00" y1="358.58" x2="145.60" y2="358.58" stroke="#145085" stroke-width="1.1"/>
<rect x="142.50" y="355.78" width="2.6" height="2.6" fill="#145085"/>
<path d="M51.00 311.70L60.50 317.65L74.60 320.63L97.60 322.12L143.80 326.58" fill="none" stroke="#c8102e" stroke-width="1.15" stroke-linejoin="round"/>
<line x1="51.00" y1="310.20" x2="51.00" y2="313.20" stroke="#c8102e" stroke-width="1.05"/>
<line x1="49.20" y1="310.20" x2="52.80" y2="310.20" stroke="#c8102e" stroke-width="1.1"/>
<line x1="49.20" y1="313.20" x2="52.80" y2="313.20" stroke="#c8102e" stroke-width="1.1"/>
<circle cx="51.00" cy="311.70" r="1.3" fill="#c8102e"/>
<line x1="60.50" y1="314.65" x2="60.50" y2="320.65" stroke="#c8102e" stroke-width="1.05"/>
<line x1="58.70" y1="314.65" x2="62.30" y2="314.65" stroke="#c8102e" stroke-width="1.1"/>
<line x1="58.70" y1="320.65" x2="62.30" y2="320.65" stroke="#c8102e" stroke-width="1.1"/>
<circle cx="60.50" cy="317.65" r="1.3" fill="#c8102e"/>
<line x1="74.60" y1="317.63" x2="74.60" y2="323.63" stroke="#c8102e" stroke-width="1.05"/>
<line x1="72.80" y1="317.63" x2="76.40" y2="317.63" stroke="#c8102e" stroke-width="1.1"/>
<line x1="72.80" y1="323.63" x2="76.40" y2="323.63" stroke="#c8102e" stroke-width="1.1"/>
<circle cx="74.60" cy="320.63" r="1.3" fill="#c8102e"/>
<line x1="97.60" y1="319.62" x2="97.60" y2="324.62" stroke="#c8102e" stroke-width="1.05"/>
<line x1="95.80" y1="319.62" x2="99.40" y2="319.62" stroke="#c8102e" stroke-width="1.1"/>
<line x1="95.80" y1="324.62" x2="99.40" y2="324.62" stroke="#c8102e" stroke-width="1.1"/>
<circle cx="97.60" cy="322.12" r="1.3" fill="#c8102e"/>
<line x1="143.80" y1="322.58" x2="143.80" y2="330.58" stroke="#c8102e" stroke-width="1.05"/>
<line x1="142.00" y1="322.58" x2="145.60" y2="322.58" stroke="#c8102e" stroke-width="1.1"/>
<line x1="142.00" y1="330.58" x2="145.60" y2="330.58" stroke="#c8102e" stroke-width="1.1"/>
<circle cx="143.80" cy="326.58" r="1.3" fill="#c8102e"/>
<line x1="43.60" y1="391.40" x2="51.00" y2="391.40" stroke="#c8102e" stroke-width="1.0"/>
<circle cx="47.30" cy="391.40" r="1.3" fill="#c8102e"/>
<text transform="translate(54.5 394.085) scale(1.0 1)" font-size="7.5" fill="#231f20" stroke="#231f20" stroke-width="0.12">Solvent</text>
<line x1="43.60" y1="399.00" x2="51.00" y2="399.00" stroke="#145085" stroke-width="1.0"/>
<rect x="46.00" y="397.70" width="2.6" height="2.6" fill="#145085"/>
<text transform="translate(54.5 401.685) scale(1.0 1)" font-size="7.5" fill="#231f20" stroke="#231f20" stroke-width="0.12">5 µM DMF</text>
<line x1="97.90" y1="392.00" x2="105.30" y2="392.00" stroke="#2fb34a" stroke-width="1.0"/>
<path d="M101.60 390.40L103.10 393.30L100.10 393.30Z" fill="#2fb34a"/>
<text transform="translate(109.4 394.685) scale(1.0 1)" font-size="7.5" fill="#231f20" stroke="#231f20" stroke-width="0.12">10 µM DMF</text>
<line x1="97.90" y1="399.80" x2="105.30" y2="399.80" stroke="#552370" stroke-width="1.0"/>
<path d="M101.60 401.40L103.10 398.50L100.10 398.50Z" fill="#552370"/>
<text transform="translate(109.4 402.485) scale(1.0 1)" font-size="7.5" fill="#231f20" stroke="#231f20" stroke-width="0.12">20 µM DMF</text>
<line x1="220.30" y1="168.50" x2="220.30" y2="232.10" stroke="#000" stroke-width="1.4"/>
<line x1="219.60" y1="231.40" x2="313.80" y2="231.40" stroke="#000" stroke-width="1.4"/>
<line x1="218.40" y1="231.40" x2="220.30" y2="231.40" stroke="#000" stroke-width="1.1"/>
<text transform="translate(216.9 234.68775) scale(0.915 1)" font-size="8.62" text-anchor="end" fill="#231f20" stroke="#231f20" stroke-width="0.18">0.00</text>
<line x1="218.40" y1="219.00" x2="220.30" y2="219.00" stroke="#000" stroke-width="1.1"/>
<text transform="translate(216.9 222.28775) scale(0.915 1)" font-size="8.62" text-anchor="end" fill="#231f20" stroke="#231f20" stroke-width="0.18">0.25</text>
<line x1="218.40" y1="206.60" x2="220.30" y2="206.60" stroke="#000" stroke-width="1.1"/>
<text transform="translate(216.9 209.88774999999998) scale(0.915 1)" font-size="8.62" text-anchor="end" fill="#231f20" stroke="#231f20" stroke-width="0.18">0.50</text>
<line x1="218.40" y1="194.20" x2="220.30" y2="194.20" stroke="#000" stroke-width="1.1"/>
<text transform="translate(216.9 197.48774999999998) scale(0.915 1)" font-size="8.62" text-anchor="end" fill="#231f20" stroke="#231f20" stroke-width="0.18">0.75</text>
<line x1="218.40" y1="181.80" x2="220.30" y2="181.80" stroke="#000" stroke-width="1.1"/>
<text transform="translate(216.9 185.08775) scale(0.915 1)" font-size="8.62" text-anchor="end" fill="#231f20" stroke="#231f20" stroke-width="0.18">1.00</text>
<line x1="218.40" y1="169.40" x2="220.30" y2="169.40" stroke="#000" stroke-width="1.1"/>
<text transform="translate(216.9 172.68775) scale(0.915 1)" font-size="8.62" text-anchor="end" fill="#231f20" stroke="#231f20" stroke-width="0.18">1.25</text>
<line x1="220.30" y1="231.40" x2="220.30" y2="233.70" stroke="#000" stroke-width="1.1"/>
<text transform="translate(220.3 240.9) scale(0.915 1)" font-size="8.62" text-anchor="middle" fill="#231f20" stroke="#231f20" stroke-width="0.18">0</text>
<line x1="243.50" y1="231.40" x2="243.50" y2="233.70" stroke="#000" stroke-width="1.1"/>
<text transform="translate(243.5 240.9) scale(0.915 1)" font-size="8.62" text-anchor="middle" fill="#231f20" stroke="#231f20" stroke-width="0.18">5</text>
<line x1="266.60" y1="231.40" x2="266.60" y2="233.70" stroke="#000" stroke-width="1.1"/>
<text transform="translate(266.6 240.9) scale(0.915 1)" font-size="8.62" text-anchor="middle" fill="#231f20" stroke="#231f20" stroke-width="0.18">10</text>
<line x1="289.90" y1="231.40" x2="289.90" y2="233.70" stroke="#000" stroke-width="1.1"/>
<text transform="translate(289.9 240.9) scale(0.915 1)" font-size="8.62" text-anchor="middle" fill="#231f20" stroke="#231f20" stroke-width="0.18">15</text>
<line x1="313.20" y1="231.40" x2="313.20" y2="233.70" stroke="#000" stroke-width="1.1"/>
<text transform="translate(313.2 240.9) scale(0.915 1)" font-size="8.62" text-anchor="middle" fill="#231f20" stroke="#231f20" stroke-width="0.18">20</text>
<text transform="translate(267.6 161.1) scale(0.885 1)" font-size="7.91" text-anchor="middle" fill="#231f20" stroke="#231f20" stroke-width="0.05">HBL-1</text>
<text transform="translate(269.1 251.3)" font-size="9.77" text-anchor="middle" textLength="34.6" lengthAdjust="spacingAndGlyphs" fill="#231f20" stroke="#231f20" stroke-width="0.14">DMF [µM]</text>
<text transform="translate(196.0 202.7) rotate(-90)" font-size="9.77" text-anchor="middle" textLength="94.5" lengthAdjust="spacingAndGlyphs" fill="#231f20" stroke="#231f20" stroke-width="0.14">Norm. absorbance [490 nm]</text>
<path d="M220.30 181.80L243.50 183.29L266.60 196.68L313.20 213.54" fill="none" stroke="#c8102e" stroke-width="1.15" stroke-linejoin="round"/>
<line x1="220.30" y1="179.30" x2="220.30" y2="184.30" stroke="#c8102e" stroke-width="1.05"/>
<line x1="218.50" y1="179.30" x2="222.10" y2="179.30" stroke="#c8102e" stroke-width="1.1"/>
<line x1="218.50" y1="184.30" x2="222.10" y2="184.30" stroke="#c8102e" stroke-width="1.1"/>
<circle cx="220.30" cy="181.80" r="1.3" fill="#c8102e"/>
<line x1="243.50" y1="180.79" x2="243.50" y2="185.79" stroke="#c8102e" stroke-width="1.05"/>
<line x1="241.70" y1="180.79" x2="245.30" y2="180.79" stroke="#c8102e" stroke-width="1.1"/>
<line x1="241.70" y1="185.79" x2="245.30" y2="185.79" stroke="#c8102e" stroke-width="1.1"/>
<circle cx="243.50" cy="183.29" r="1.3" fill="#c8102e"/>
<line x1="266.60" y1="195.88" x2="266.60" y2="197.48" stroke="#c8102e" stroke-width="1.05"/>
<line x1="264.80" y1="195.88" x2="268.40" y2="195.88" stroke="#c8102e" stroke-width="1.1"/>
<line x1="264.80" y1="197.48" x2="268.40" y2="197.48" stroke="#c8102e" stroke-width="1.1"/>
<circle cx="266.60" cy="196.68" r="1.3" fill="#c8102e"/>
<line x1="313.20" y1="212.04" x2="313.20" y2="215.04" stroke="#c8102e" stroke-width="1.05"/>
<line x1="311.40" y1="212.04" x2="315.00" y2="212.04" stroke="#c8102e" stroke-width="1.1"/>
<line x1="311.40" y1="215.04" x2="315.00" y2="215.04" stroke="#c8102e" stroke-width="1.1"/>
<circle cx="313.20" cy="213.54" r="1.3" fill="#c8102e"/>
<line x1="220.45" y1="298.40" x2="220.45" y2="362.00" stroke="#000" stroke-width="1.4"/>
<line x1="219.75" y1="361.30" x2="313.80" y2="361.30" stroke="#000" stroke-width="1.4"/>
<line x1="218.55" y1="361.30" x2="220.45" y2="361.30" stroke="#000" stroke-width="1.1"/>
<text transform="translate(216.6 364.28774999999996) scale(0.915 1)" font-size="8.62" text-anchor="end" fill="#231f20" stroke="#231f20" stroke-width="0.18">0.00</text>
<line x1="218.55" y1="348.90" x2="220.45" y2="348.90" stroke="#000" stroke-width="1.1"/>
<text transform="translate(216.6 351.88775) scale(0.915 1)" font-size="8.62" text-anchor="end" fill="#231f20" stroke="#231f20" stroke-width="0.18">0.25</text>
<line x1="218.55" y1="336.50" x2="220.45" y2="336.50" stroke="#000" stroke-width="1.1"/>
<text transform="translate(216.6 339.48775) scale(0.915 1)" font-size="8.62" text-anchor="end" fill="#231f20" stroke="#231f20" stroke-width="0.18">0.50</text>
<line x1="218.55" y1="324.10" x2="220.45" y2="324.10" stroke="#000" stroke-width="1.1"/>
<text transform="translate(216.6 327.08775) scale(0.915 1)" font-size="8.62" text-anchor="end" fill="#231f20" stroke="#231f20" stroke-width="0.18">0.75</text>
<line x1="218.55" y1="311.70" x2="220.45" y2="311.70" stroke="#000" stroke-width="1.1"/>
<text transform="translate(216.6 314.68774999999994) scale(0.915 1)" font-size="8.62" text-anchor="end" fill="#231f20" stroke="#231f20" stroke-width="0.18">1.00</text>
<line x1="218.55" y1="299.30" x2="220.45" y2="299.30" stroke="#000" stroke-width="1.1"/>
<text transform="translate(216.6 302.28774999999996) scale(0.915 1)" font-size="8.62" text-anchor="end" fill="#231f20" stroke="#231f20" stroke-width="0.18">1.25</text>
<line x1="220.00" y1="361.30" x2="220.00" y2="363.60" stroke="#000" stroke-width="1.1"/>
<text transform="translate(220.0 370.7) scale(0.915 1)" font-size="8.62" text-anchor="middle" fill="#231f20" stroke="#231f20" stroke-width="0.18">0</text>
<line x1="238.64" y1="361.30" x2="238.64" y2="363.60" stroke="#000" stroke-width="1.1"/>
<text transform="translate(238.64 370.7) scale(0.915 1)" font-size="8.62" text-anchor="middle" fill="#231f20" stroke="#231f20" stroke-width="0.18">10</text>
<line x1="257.28" y1="361.30" x2="257.28" y2="363.60" stroke="#000" stroke-width="1.1"/>
<text transform="translate(257.28 370.7) scale(0.915 1)" font-size="8.62" text-anchor="middle" fill="#231f20" stroke="#231f20" stroke-width="0.18">20</text>
<line x1="275.92" y1="361.30" x2="275.92" y2="363.60" stroke="#000" stroke-width="1.1"/>
<text transform="translate(275.91999999999996 370.7) scale(0.915 1)" font-size="8.62" text-anchor="middle" fill="#231f20" stroke="#231f20" stroke-width="0.18">30</text>
<line x1="294.56" y1="361.30" x2="294.56" y2="363.60" stroke="#000" stroke-width="1.1"/>
<text transform="translate(294.56 370.7) scale(0.915 1)" font-size="8.62" text-anchor="middle" fill="#231f20" stroke="#231f20" stroke-width="0.18">40</text>
<line x1="313.20" y1="361.30" x2="313.20" y2="363.60" stroke="#000" stroke-width="1.1"/>
<text transform="translate(313.2 370.7) scale(0.915 1)" font-size="8.62" text-anchor="middle" fill="#231f20" stroke="#231f20" stroke-width="0.18">50</text>
<text transform="translate(267.7 285.9) scale(0.885 1)" font-size="7.91" text-anchor="middle" fill="#231f20" stroke="#231f20" stroke-width="0.05">HBL-1</text>
<text transform="translate(262.3 379.5)" font-size="9.77" text-anchor="middle" textLength="45" lengthAdjust="spacingAndGlyphs" fill="#231f20" stroke="#231f20" stroke-width="0.14">ABT-199 [nM]</text>
<text transform="translate(195.9 336) rotate(-90)" font-size="9.77" text-anchor="middle" textLength="95" lengthAdjust="spacingAndGlyphs" fill="#231f20" stroke="#231f20" stroke-width="0.14">Norm. absorbance [490 nm]</text>
<path d="M220.00 311.70L229.32 341.46L238.64 344.93L266.60 350.88L313.20 351.38" fill="none" stroke="#552370" stroke-width="1.15" stroke-linejoin="round"/>
<line x1="220.00" y1="307.70" x2="220.00" y2="315.70" stroke="#552370" stroke-width="1.05"/>
<line x1="218.20" y1="307.70" x2="221.80" y2="307.70" stroke="#552370" stroke-width="1.1"/>
<line x1="218.20" y1="315.70" x2="221.80" y2="315.70" stroke="#552370" stroke-width="1.1"/>
<path d="M220.00 313.30L221.50 310.40L218.50 310.40Z" fill="#552370"/>
<line x1="229.32" y1="339.96" x2="229.32" y2="342.96" stroke="#552370" stroke-width="1.05"/>
<line x1="227.52" y1="339.96" x2="231.12" y2="339.96" stroke="#552370" stroke-width="1.1"/>
<line x1="227.52" y1="342.96" x2="231.12" y2="342.96" stroke="#552370" stroke-width="1.1"/>
<path d="M229.32 343.06L230.82 340.16L227.82 340.16Z" fill="#552370"/>
<line x1="238.64" y1="341.93" x2="238.64" y2="347.93" stroke="#552370" stroke-width="1.05"/>
<line x1="236.84" y1="341.93" x2="240.44" y2="341.93" stroke="#552370" stroke-width="1.1"/>
<line x1="236.84" y1="347.93" x2="240.44" y2="347.93" stroke="#552370" stroke-width="1.1"/>
<path d="M238.64 346.53L240.14 343.63L237.14 343.63Z" fill="#552370"/>
<line x1="266.60" y1="349.38" x2="266.60" y2="352.38" stroke="#552370" stroke-width="1.05"/>
<line x1="264.80" y1="349.38" x2="268.40" y2="349.38" stroke="#552370" stroke-width="1.1"/>
<line x1="264.80" y1="352.38" x2="268.40" y2="352.38" stroke="#552370" stroke-width="1.1"/>
<path d="M266.60 352.48L268.10 349.58L265.10 349.58Z" fill="#552370"/>
<line x1="313.20" y1="348.38" x2="313.20" y2="354.38" stroke="#552370" stroke-width="1.05"/>
<line x1="311.40" y1="348.38" x2="315.00" y2="348.38" stroke="#552370" stroke-width="1.1"/>
<line x1="311.40" y1="354.38" x2="315.00" y2="354.38" stroke="#552370" stroke-width="1.1"/>
<path d="M313.20 352.98L314.70 350.08L311.70 350.08Z" fill="#552370"/>
<path d="M220.00 313.19L229.32 334.02L238.64 343.94L266.60 352.87L313.20 356.34" fill="none" stroke="#2fb34a" stroke-width="1.15" stroke-linejoin="round"/>
<line x1="220.00" y1="311.19" x2="220.00" y2="315.19" stroke="#2fb34a" stroke-width="1.05"/>
<line x1="218.20" y1="311.19" x2="221.80" y2="311.19" stroke="#2fb34a" stroke-width="1.1"/>
<line x1="218.20" y1="315.19" x2="221.80" y2="315.19" stroke="#2fb34a" stroke-width="1.1"/>
<path d="M220.00 311.59L221.50 314.49L218.50 314.49Z" fill="#2fb34a"/>
<line x1="229.32" y1="332.02" x2="229.32" y2="336.02" stroke="#2fb34a" stroke-width="1.05"/>
<line x1="227.52" y1="332.02" x2="231.12" y2="332.02" stroke="#2fb34a" stroke-width="1.1"/>
<line x1="227.52" y1="336.02" x2="231.12" y2="336.02" stroke="#2fb34a" stroke-width="1.1"/>
<path d="M229.32 332.42L230.82 335.32L227.82 335.32Z" fill="#2fb34a"/>
<line x1="238.64" y1="342.44" x2="238.64" y2="345.44" stroke="#2fb34a" stroke-width="1.05"/>
<line x1="236.84" y1="342.44" x2="240.44" y2="342.44" stroke="#2fb34a" stroke-width="1.1"/>
<line x1="236.84" y1="345.44" x2="240.44" y2="345.44" stroke="#2fb34a" stroke-width="1.1"/>
<path d="M238.64 342.34L240.14 345.24L237.14 345.24Z" fill="#2fb34a"/>
<line x1="266.60" y1="351.37" x2="266.60" y2="354.37" stroke="#2fb34a" stroke-width="1.05"/>
<line x1="264.80" y1="351.37" x2="268.40" y2="351.37" stroke="#2fb34a" stroke-width="1.1"/>
<line x1="264.80" y1="354.37" x2="268.40" y2="354.37" stroke="#2fb34a" stroke-width="1.1"/>
<path d="M266.60 351.27L268.10 354.17L265.10 354.17Z" fill="#2fb34a"/>
<line x1="313.20" y1="355.34" x2="313.20" y2="357.34" stroke="#2fb34a" stroke-width="1.05"/>
<line x1="311.40" y1="355.34" x2="315.00" y2="355.34" stroke="#2fb34a" stroke-width="1.1"/>
<line x1="311.40" y1="357.34" x2="315.00" y2="357.34" stroke="#2fb34a" stroke-width="1.1"/>
<path d="M313.20 354.74L314.70 357.64L311.70 357.64Z" fill="#2fb34a"/>
<path d="M220.00 313.19L229.32 331.54L238.64 338.48L266.60 344.93L313.20 347.91" fill="none" stroke="#145085" stroke-width="1.15" stroke-linejoin="round"/>
<line x1="220.00" y1="311.19" x2="220.00" y2="315.19" stroke="#145085" stroke-width="1.05"/>
<line x1="218.20" y1="311.19" x2="221.80" y2="311.19" stroke="#145085" stroke-width="1.1"/>
<line x1="218.20" y1="315.19" x2="221.80" y2="315.19" stroke="#145085" stroke-width="1.1"/>
<rect x="218.70" y="311.89" width="2.6" height="2.6" fill="#145085"/>
<line x1="229.32" y1="329.04" x2="229.32" y2="334.04" stroke="#145085" stroke-width="1.05"/>
<line x1="227.52" y1="329.04" x2="231.12" y2="329.04" stroke="#145085" stroke-width="1.1"/>
<line x1="227.52" y1="334.04" x2="231.12" y2="334.04" stroke="#145085" stroke-width="1.1"/>
<rect x="228.02" y="330.24" width="2.6" height="2.6" fill="#145085"/>
<line x1="238.64" y1="334.98" x2="238.64" y2="341.98" stroke="#145085" stroke-width="1.05"/>
<line x1="236.84" y1="334.98" x2="240.44" y2="334.98" stroke="#145085" stroke-width="1.1"/>
<line x1="236.84" y1="341.98" x2="240.44" y2="341.98" stroke="#145085" stroke-width="1.1"/>
<rect x="237.34" y="337.18" width="2.6" height="2.6" fill="#145085"/>
<line x1="266.60" y1="342.93" x2="266.60" y2="346.93" stroke="#145085" stroke-width="1.05"/>
<line x1="264.80" y1="342.93" x2="268.40" y2="342.93" stroke="#145085" stroke-width="1.1"/>
<line x1="264.80" y1="346.93" x2="268.40" y2="346.93" stroke="#145085" stroke-width="1.1"/>
<rect x="265.30" y="343.63" width="2.6" height="2.6" fill="#145085"/>
<line x1="313.20" y1="344.91" x2="313.20" y2="350.91" stroke="#145085" stroke-width="1.05"/>
<line x1="311.40" y1="344.91" x2="315.00" y2="344.91" stroke="#145085" stroke-width="1.1"/>
<line x1="311.40" y1="350.91" x2="315.00" y2="350.91" stroke="#145085" stroke-width="1.1"/>
<rect x="311.90" y="346.61" width="2.6" height="2.6" fill="#145085"/>
<path d="M220.00 311.70L229.32 320.63L238.64 321.62L266.60 336.50L313.20 340.47" fill="none" stroke="#c8102e" stroke-width="1.15" stroke-linejoin="round"/>
<line x1="220.00" y1="310.20" x2="220.00" y2="313.20" stroke="#c8102e" stroke-width="1.05"/>
<line x1="218.20" y1="310.20" x2="221.80" y2="310.20" stroke="#c8102e" stroke-width="1.1"/>
<line x1="218.20" y1="313.20" x2="221.80" y2="313.20" stroke="#c8102e" stroke-width="1.1"/>
<circle cx="220.00" cy="311.70" r="1.3" fill="#c8102e"/>
<line x1="229.32" y1="318.63" x2="229.32" y2="322.63" stroke="#c8102e" stroke-width="1.05"/>
<line x1="227.52" y1="318.63" x2="231.12" y2="318.63" stroke="#c8102e" stroke-width="1.1"/>
<line x1="227.52" y1="322.63" x2="231.12" y2="322.63" stroke="#c8102e" stroke-width="1.1"/>
<circle cx="229.32" cy="320.63" r="1.3" fill="#c8102e"/>
<line x1="238.64" y1="320.62" x2="238.64" y2="322.62" stroke="#c8102e" stroke-width="1.05"/>
<line x1="236.84" y1="320.62" x2="240.44" y2="320.62" stroke="#c8102e" stroke-width="1.1"/>
<line x1="236.84" y1="322.62" x2="240.44" y2="322.62" stroke="#c8102e" stroke-width="1.1"/>
<circle cx="238.64" cy="321.62" r="1.3" fill="#c8102e"/>
<line x1="266.60" y1="333.00" x2="266.60" y2="340.00" stroke="#c8102e" stroke-width="1.05"/>
<line x1="264.80" y1="333.00" x2="268.40" y2="333.00" stroke="#c8102e" stroke-width="1.1"/>
<line x1="264.80" y1="340.00" x2="268.40" y2="340.00" stroke="#c8102e" stroke-width="1.1"/>
<circle cx="266.60" cy="336.50" r="1.3" fill="#c8102e"/>
<line x1="313.20" y1="337.97" x2="313.20" y2="342.97" stroke="#c8102e" stroke-width="1.05"/>
<line x1="311.40" y1="337.97" x2="315.00" y2="337.97" stroke="#c8102e" stroke-width="1.1"/>
<line x1="311.40" y1="342.97" x2="315.00" y2="342.97" stroke="#c8102e" stroke-width="1.1"/>
<circle cx="313.20" cy="340.47" r="1.3" fill="#c8102e"/>
<line x1="212.80" y1="392.90" x2="220.20" y2="392.90" stroke="#c8102e" stroke-width="1.0"/>
<circle cx="216.50" cy="392.90" r="1.3" fill="#c8102e"/>
<text transform="translate(224 395.585) scale(1.0 1)" font-size="7.5" fill="#231f20" stroke="#231f20" stroke-width="0.12">Solvent</text>
<line x1="212.80" y1="400.50" x2="220.20" y2="400.50" stroke="#145085" stroke-width="1.0"/>
<rect x="215.20" y="399.20" width="2.6" height="2.6" fill="#145085"/>
<text transform="translate(224 403.185) scale(1.0 1)" font-size="7.5" fill="#231f20" stroke="#231f20" stroke-width="0.12">5 µM DMF</text>
<line x1="261.80" y1="392.90" x2="269.20" y2="392.90" stroke="#2fb34a" stroke-width="1.0"/>
<path d="M265.50 391.30L267.00 394.20L264.00 394.20Z" fill="#2fb34a"/>
<text transform="translate(272.4 395.585) scale(1.0 1)" font-size="7.5" fill="#231f20" stroke="#231f20" stroke-width="0.12">10 µM DMF</text>
<line x1="261.80" y1="400.50" x2="269.20" y2="400.50" stroke="#552370" stroke-width="1.0"/>
<path d="M265.50 402.10L267.00 399.20L264.00 399.20Z" fill="#552370"/>
<text transform="translate(272.4 403.185) scale(1.0 1)" font-size="7.5" fill="#231f20" stroke="#231f20" stroke-width="0.12">20 µM DMF</text>
<line x1="382.60" y1="154.00" x2="382.60" y2="233.00" stroke="#000" stroke-width="1.4"/>
<line x1="381.90" y1="232.30" x2="499.18" y2="232.30" stroke="#000" stroke-width="1.4"/>
<line x1="380.00" y1="232.30" x2="382.60" y2="232.30" stroke="#000" stroke-width="1.1"/>
<text transform="translate(378.40000000000003 235.18775) scale(0.945 1)" font-size="8.62" text-anchor="end" fill="#231f20" stroke="#231f20" stroke-width="0.18">0</text>
<line x1="380.00" y1="223.70" x2="382.60" y2="223.70" stroke="#000" stroke-width="1.1"/>
<text transform="translate(378.40000000000003 226.58775) scale(0.945 1)" font-size="8.62" text-anchor="end" fill="#231f20" stroke="#231f20" stroke-width="0.18">250</text>
<line x1="380.00" y1="215.10" x2="382.60" y2="215.10" stroke="#000" stroke-width="1.1"/>
<text transform="translate(378.40000000000003 217.98775) scale(0.945 1)" font-size="8.62" text-anchor="end" fill="#231f20" stroke="#231f20" stroke-width="0.18">500</text>
<line x1="380.00" y1="206.50" x2="382.60" y2="206.50" stroke="#000" stroke-width="1.1"/>
<text transform="translate(378.40000000000003 209.38774999999998) scale(0.945 1)" font-size="8.62" text-anchor="end" fill="#231f20" stroke="#231f20" stroke-width="0.18">750</text>
<line x1="380.00" y1="197.90" x2="382.60" y2="197.90" stroke="#000" stroke-width="1.1"/>
<text transform="translate(378.40000000000003 200.78775) scale(0.945 1)" font-size="8.62" text-anchor="end" fill="#231f20" stroke="#231f20" stroke-width="0.18">1000</text>
<line x1="380.00" y1="189.30" x2="382.60" y2="189.30" stroke="#000" stroke-width="1.1"/>
<text transform="translate(378.40000000000003 192.18775) scale(0.945 1)" font-size="8.62" text-anchor="end" fill="#231f20" stroke="#231f20" stroke-width="0.18">1250</text>
<line x1="380.00" y1="180.70" x2="382.60" y2="180.70" stroke="#000" stroke-width="1.1"/>
<text transform="translate(378.40000000000003 183.58775) scale(0.945 1)" font-size="8.62" text-anchor="end" fill="#231f20" stroke="#231f20" stroke-width="0.18">1500</text>
<line x1="380.00" y1="172.10" x2="382.60" y2="172.10" stroke="#000" stroke-width="1.1"/>
<text transform="translate(378.40000000000003 174.98775) scale(0.945 1)" font-size="8.62" text-anchor="end" fill="#231f20" stroke="#231f20" stroke-width="0.18">1750</text>
<line x1="380.00" y1="163.50" x2="382.60" y2="163.50" stroke="#000" stroke-width="1.1"/>
<text transform="translate(378.40000000000003 166.38774999999998) scale(0.945 1)" font-size="8.62" text-anchor="end" fill="#231f20" stroke="#231f20" stroke-width="0.18">2000</text>
<line x1="380.00" y1="154.90" x2="382.60" y2="154.90" stroke="#000" stroke-width="1.1"/>
<text transform="translate(378.40000000000003 157.78775) scale(0.945 1)" font-size="8.62" text-anchor="end" fill="#231f20" stroke="#231f20" stroke-width="0.18">2250</text>
<line x1="382.30" y1="232.30" x2="382.30" y2="235.30" stroke="#000" stroke-width="1.1"/>
<text transform="translate(382.3 241.70000000000002) scale(0.945 1)" font-size="8.62" text-anchor="middle" fill="#231f20" stroke="#231f20" stroke-width="0.18">0</text>
<line x1="395.22" y1="232.30" x2="395.22" y2="235.30" stroke="#000" stroke-width="1.1"/>
<text transform="translate(395.22 241.70000000000002) scale(0.945 1)" font-size="8.62" text-anchor="middle" fill="#231f20" stroke="#231f20" stroke-width="0.18">1</text>
<line x1="408.14" y1="232.30" x2="408.14" y2="235.30" stroke="#000" stroke-width="1.1"/>
<text transform="translate(408.14 241.70000000000002) scale(0.945 1)" font-size="8.62" text-anchor="middle" fill="#231f20" stroke="#231f20" stroke-width="0.18">2</text>
<line x1="421.06" y1="232.30" x2="421.06" y2="235.30" stroke="#000" stroke-width="1.1"/>
<text transform="translate(421.06 241.70000000000002) scale(0.945 1)" font-size="8.62" text-anchor="middle" fill="#231f20" stroke="#231f20" stroke-width="0.18">3</text>
<line x1="433.98" y1="232.30" x2="433.98" y2="235.30" stroke="#000" stroke-width="1.1"/>
<text transform="translate(433.98 241.70000000000002) scale(0.945 1)" font-size="8.62" text-anchor="middle" fill="#231f20" stroke="#231f20" stroke-width="0.18">4</text>
<line x1="446.90" y1="232.30" x2="446.90" y2="235.30" stroke="#000" stroke-width="1.1"/>
<text transform="translate(446.9 241.70000000000002) scale(0.945 1)" font-size="8.62" text-anchor="middle" fill="#231f20" stroke="#231f20" stroke-width="0.18">5</text>
<line x1="459.82" y1="232.30" x2="459.82" y2="235.30" stroke="#000" stroke-width="1.1"/>
<text transform="translate(459.82 241.70000000000002) scale(0.945 1)" font-size="8.62" text-anchor="middle" fill="#231f20" stroke="#231f20" stroke-width="0.18">6</text>
<line x1="472.74" y1="232.30" x2="472.74" y2="235.30" stroke="#000" stroke-width="1.1"/>
<text transform="translate(472.74 241.70000000000002) scale(0.945 1)" font-size="8.62" text-anchor="middle" fill="#231f20" stroke="#231f20" stroke-width="0.18">7</text>
<line x1="485.66" y1="232.30" x2="485.66" y2="235.30" stroke="#000" stroke-width="1.1"/>
<text transform="translate(485.66 241.70000000000002) scale(0.945 1)" font-size="8.62" text-anchor="middle" fill="#231f20" stroke="#231f20" stroke-width="0.18">8</text>
<line x1="498.58" y1="232.30" x2="498.58" y2="235.30" stroke="#000" stroke-width="1.1"/>
<text transform="translate(498.58000000000004 241.70000000000002) scale(0.945 1)" font-size="8.62" text-anchor="middle" fill="#231f20" stroke="#231f20" stroke-width="0.18">9</text>
<text transform="translate(439.6 161.2) scale(0.885 1)" font-size="7.91" text-anchor="middle" fill="#231f20" stroke="#231f20" stroke-width="0.05">HBL-1</text>
<text transform="translate(441.7 252.3)" font-size="9.77" text-anchor="middle" textLength="26.5" lengthAdjust="spacingAndGlyphs" fill="#231f20" stroke="#231f20" stroke-width="0.14">Time [d]</text>
<text transform="translate(353.6 228.95) rotate(-90)" font-size="9.77" textLength="65.9" lengthAdjust="spacingAndGlyphs" fill="#231f20" stroke="#231f20" stroke-width="0.14">Tumor volume [mm</text>
<text transform="translate(350.70000000000005 161.95) rotate(-90) scale(0.85 1)" font-size="7" fill="#231f20" stroke="#231f20" stroke-width="0.2">3</text>
<text transform="translate(353.6 157.95) rotate(-90)" font-size="9.77" textLength="2.3" lengthAdjust="spacingAndGlyphs" fill="#231f20" stroke="#231f20" stroke-width="0.14">]</text>
<path d="M382.30 228.34L408.14 227.48L433.98 221.74L472.74 215.93L498.58 210.56" fill="none" stroke="#552370" stroke-width="1.15" stroke-linejoin="round"/>
<line x1="382.30" y1="227.34" x2="382.30" y2="229.34" stroke="#552370" stroke-width="1.05"/>
<line x1="380.50" y1="227.34" x2="384.10" y2="227.34" stroke="#552370" stroke-width="1.1"/>
<line x1="380.50" y1="229.34" x2="384.10" y2="229.34" stroke="#552370" stroke-width="1.1"/>
<path d="M382.30 230.04L383.90 226.94L380.70 226.94Z" fill="#552370"/>
<line x1="408.14" y1="225.98" x2="408.14" y2="228.98" stroke="#552370" stroke-width="1.05"/>
<line x1="406.34" y1="225.98" x2="409.94" y2="225.98" stroke="#552370" stroke-width="1.1"/>
<line x1="406.34" y1="228.98" x2="409.94" y2="228.98" stroke="#552370" stroke-width="1.1"/>
<path d="M408.14 229.18L409.74 226.08L406.54 226.08Z" fill="#552370"/>
<line x1="433.98" y1="216.74" x2="433.98" y2="226.74" stroke="#552370" stroke-width="1.05"/>
<line x1="432.18" y1="216.74" x2="435.78" y2="216.74" stroke="#552370" stroke-width="1.1"/>
<line x1="432.18" y1="226.74" x2="435.78" y2="226.74" stroke="#552370" stroke-width="1.1"/>
<path d="M433.98 223.44L435.58 220.34L432.38 220.34Z" fill="#552370"/>
<line x1="472.74" y1="210.43" x2="472.74" y2="221.43" stroke="#552370" stroke-width="1.05"/>
<line x1="470.94" y1="210.43" x2="474.54" y2="210.43" stroke="#552370" stroke-width="1.1"/>
<line x1="470.94" y1="221.43" x2="474.54" y2="221.43" stroke="#552370" stroke-width="1.1"/>
<path d="M472.74 217.63L474.34 214.53L471.14 214.53Z" fill="#552370"/>
<line x1="498.58" y1="206.06" x2="498.58" y2="215.06" stroke="#552370" stroke-width="1.05"/>
<line x1="496.78" y1="206.06" x2="500.38" y2="206.06" stroke="#552370" stroke-width="1.1"/>
<line x1="496.78" y1="215.06" x2="500.38" y2="215.06" stroke="#552370" stroke-width="1.1"/>
<path d="M498.58 212.26L500.18 209.16L496.98 209.16Z" fill="#552370"/>
<path d="M382.30 228.34L408.14 227.14L433.98 220.23L472.74 208.22L498.58 189.30" fill="none" stroke="#2fb34a" stroke-width="1.15" stroke-linejoin="round"/>
<line x1="382.30" y1="227.34" x2="382.30" y2="229.34" stroke="#2fb34a" stroke-width="1.05"/>
<line x1="380.50" y1="227.34" x2="384.10" y2="227.34" stroke="#2fb34a" stroke-width="1.1"/>
<line x1="380.50" y1="229.34" x2="384.10" y2="229.34" stroke="#2fb34a" stroke-width="1.1"/>
<path d="M382.30 226.64L383.90 229.74L380.70 229.74Z" fill="#2fb34a"/>
<line x1="408.14" y1="225.14" x2="408.14" y2="229.14" stroke="#2fb34a" stroke-width="1.05"/>
<line x1="406.34" y1="225.14" x2="409.94" y2="225.14" stroke="#2fb34a" stroke-width="1.1"/>
<line x1="406.34" y1="229.14" x2="409.94" y2="229.14" stroke="#2fb34a" stroke-width="1.1"/>
<path d="M408.14 225.44L409.74 228.54L406.54 228.54Z" fill="#2fb34a"/>
<line x1="433.98" y1="215.23" x2="433.98" y2="225.23" stroke="#2fb34a" stroke-width="1.05"/>
<line x1="432.18" y1="215.23" x2="435.78" y2="215.23" stroke="#2fb34a" stroke-width="1.1"/>
<line x1="432.18" y1="225.23" x2="435.78" y2="225.23" stroke="#2fb34a" stroke-width="1.1"/>
<path d="M433.98 218.53L435.58 221.63L432.38 221.63Z" fill="#2fb34a"/>
<line x1="472.74" y1="204.22" x2="472.74" y2="212.22" stroke="#2fb34a" stroke-width="1.05"/>
<line x1="470.94" y1="204.22" x2="474.54" y2="204.22" stroke="#2fb34a" stroke-width="1.1"/>
<line x1="470.94" y1="212.22" x2="474.54" y2="212.22" stroke="#2fb34a" stroke-width="1.1"/>
<path d="M472.74 206.52L474.34 209.62L471.14 209.62Z" fill="#2fb34a"/>
<line x1="498.58" y1="173.30" x2="498.58" y2="205.80" stroke="#2fb34a" stroke-width="1.05"/>
<line x1="496.78" y1="173.30" x2="500.38" y2="173.30" stroke="#2fb34a" stroke-width="1.1"/>
<line x1="496.78" y1="205.80" x2="500.38" y2="205.80" stroke="#2fb34a" stroke-width="1.1"/>
<path d="M498.58 187.60L500.18 190.70L496.98 190.70Z" fill="#2fb34a"/>
<path d="M382.30 228.17L408.14 226.62L433.98 218.23L472.74 199.48L498.58 176.43" fill="none" stroke="#145085" stroke-width="1.15" stroke-linejoin="round"/>
<line x1="382.30" y1="227.17" x2="382.30" y2="229.17" stroke="#145085" stroke-width="1.05"/>
<line x1="380.50" y1="227.17" x2="384.10" y2="227.17" stroke="#145085" stroke-width="1.1"/>
<line x1="380.50" y1="229.17" x2="384.10" y2="229.17" stroke="#145085" stroke-width="1.1"/>
<rect x="380.90" y="226.77" width="2.8" height="2.8" fill="#145085"/>
<line x1="408.14" y1="224.62" x2="408.14" y2="228.62" stroke="#145085" stroke-width="1.05"/>
<line x1="406.34" y1="224.62" x2="409.94" y2="224.62" stroke="#145085" stroke-width="1.1"/>
<line x1="406.34" y1="228.62" x2="409.94" y2="228.62" stroke="#145085" stroke-width="1.1"/>
<rect x="406.74" y="225.22" width="2.8" height="2.8" fill="#145085"/>
<line x1="433.98" y1="214.23" x2="433.98" y2="222.23" stroke="#145085" stroke-width="1.05"/>
<line x1="432.18" y1="214.23" x2="435.78" y2="214.23" stroke="#145085" stroke-width="1.1"/>
<line x1="432.18" y1="222.23" x2="435.78" y2="222.23" stroke="#145085" stroke-width="1.1"/>
<rect x="432.58" y="216.83" width="2.8" height="2.8" fill="#145085"/>
<line x1="472.74" y1="192.48" x2="472.74" y2="206.48" stroke="#145085" stroke-width="1.05"/>
<line x1="470.94" y1="192.48" x2="474.54" y2="192.48" stroke="#145085" stroke-width="1.1"/>
<line x1="470.94" y1="206.48" x2="474.54" y2="206.48" stroke="#145085" stroke-width="1.1"/>
<rect x="471.34" y="198.08" width="2.8" height="2.8" fill="#145085"/>
<line x1="498.58" y1="159.43" x2="498.58" y2="193.43" stroke="#145085" stroke-width="1.05"/>
<line x1="496.78" y1="159.43" x2="500.38" y2="159.43" stroke="#145085" stroke-width="1.1"/>
<line x1="496.78" y1="193.43" x2="500.38" y2="193.43" stroke="#145085" stroke-width="1.1"/>
<rect x="497.18" y="175.03" width="2.8" height="2.8" fill="#145085"/>
<path d="M382.30 227.42L408.14 223.22L433.98 212.76L472.74 192.60L498.58 169.04" fill="none" stroke="#c8102e" stroke-width="1.15" stroke-linejoin="round"/>
<line x1="382.30" y1="226.42" x2="382.30" y2="228.42" stroke="#c8102e" stroke-width="1.05"/>
<line x1="380.50" y1="226.42" x2="384.10" y2="226.42" stroke="#c8102e" stroke-width="1.1"/>
<line x1="380.50" y1="228.42" x2="384.10" y2="228.42" stroke="#c8102e" stroke-width="1.1"/>
<circle cx="382.30" cy="227.42" r="1.4" fill="#c8102e"/>
<line x1="408.14" y1="220.72" x2="408.14" y2="225.72" stroke="#c8102e" stroke-width="1.05"/>
<line x1="406.34" y1="220.72" x2="409.94" y2="220.72" stroke="#c8102e" stroke-width="1.1"/>
<line x1="406.34" y1="225.72" x2="409.94" y2="225.72" stroke="#c8102e" stroke-width="1.1"/>
<circle cx="408.14" cy="223.22" r="1.4" fill="#c8102e"/>
<line x1="433.98" y1="208.76" x2="433.98" y2="216.76" stroke="#c8102e" stroke-width="1.05"/>
<line x1="432.18" y1="208.76" x2="435.78" y2="208.76" stroke="#c8102e" stroke-width="1.1"/>
<line x1="432.18" y1="216.76" x2="435.78" y2="216.76" stroke="#c8102e" stroke-width="1.1"/>
<circle cx="433.98" cy="212.76" r="1.4" fill="#c8102e"/>
<line x1="472.74" y1="184.10" x2="472.74" y2="201.10" stroke="#c8102e" stroke-width="1.05"/>
<line x1="470.94" y1="184.10" x2="474.54" y2="184.10" stroke="#c8102e" stroke-width="1.1"/>
<line x1="470.94" y1="201.10" x2="474.54" y2="201.10" stroke="#c8102e" stroke-width="1.1"/>
<circle cx="472.74" cy="192.60" r="1.4" fill="#c8102e"/>
<line x1="498.58" y1="155.54" x2="498.58" y2="182.54" stroke="#c8102e" stroke-width="1.05"/>
<line x1="496.78" y1="155.54" x2="500.38" y2="155.54" stroke="#c8102e" stroke-width="1.1"/>
<line x1="496.78" y1="182.54" x2="500.38" y2="182.54" stroke="#c8102e" stroke-width="1.1"/>
<circle cx="498.58" cy="169.04" r="1.4" fill="#c8102e"/>
<text transform="translate(505.8 193.6) scale(1.0 1)" font-size="9" text-anchor="middle" font-weight="bold" fill="#000">*</text>
<text transform="translate(507.2 215.2)" font-size="9" text-anchor="middle" font-weight="bold" textLength="10.6" lengthAdjust="spacingAndGlyphs" fill="#000">***</text>
<line x1="378.70" y1="258.40" x2="386.10" y2="258.40" stroke="#c8102e" stroke-width="1.0"/>
<circle cx="382.40" cy="258.40" r="1.3" fill="#c8102e"/>
<text transform="translate(390.2 261.085) scale(1.0 1)" font-size="7.5" fill="#231f20" stroke="#231f20" stroke-width="0.12">Vehicle</text>
<line x1="378.70" y1="267.50" x2="386.10" y2="267.50" stroke="#145085" stroke-width="1.0"/>
<rect x="381.10" y="266.20" width="2.6" height="2.6" fill="#145085"/>
<text transform="translate(390.2 270.185) scale(1.0 1)" font-size="7.5" fill="#231f20" stroke="#231f20" stroke-width="0.12">ABT-199</text>
<line x1="438.40" y1="258.40" x2="445.80" y2="258.40" stroke="#2fb34a" stroke-width="1.0"/>
<path d="M442.10 256.80L443.60 259.70L440.60 259.70Z" fill="#2fb34a"/>
<text transform="translate(449.9 261.085) scale(1.0 1)" font-size="7.5" fill="#231f20" stroke="#231f20" stroke-width="0.12">DMF</text>
<line x1="438.40" y1="267.50" x2="445.80" y2="267.50" stroke="#552370" stroke-width="1.0"/>
<path d="M442.10 269.10L443.60 266.20L440.60 266.20Z" fill="#552370"/>
<text transform="translate(449.9 270.185) scale(1.0 1)" font-size="7.5" fill="#231f20" stroke="#231f20" stroke-width="0.12">DMF + ABT-199</text>
<line x1="385.45" y1="284.20" x2="385.45" y2="362.30" stroke="#000" stroke-width="1.4"/>
<line x1="384.75" y1="361.60" x2="502.02" y2="361.60" stroke="#000" stroke-width="1.4"/>
<line x1="382.85" y1="360.70" x2="385.45" y2="360.70" stroke="#000" stroke-width="1.1"/>
<text transform="translate(381.8 363.8877499999999) scale(0.935 1)" font-size="8.62" text-anchor="end" fill="#231f20" stroke="#231f20" stroke-width="0.18">0</text>
<line x1="382.85" y1="353.10" x2="385.45" y2="353.10" stroke="#000" stroke-width="1.1"/>
<text transform="translate(381.8 356.28775) scale(0.935 1)" font-size="8.62" text-anchor="end" fill="#231f20" stroke="#231f20" stroke-width="0.18">250</text>
<line x1="382.85" y1="344.60" x2="385.45" y2="344.60" stroke="#000" stroke-width="1.1"/>
<text transform="translate(381.8 347.78775) scale(0.935 1)" font-size="8.62" text-anchor="end" fill="#231f20" stroke="#231f20" stroke-width="0.18">500</text>
<line x1="382.85" y1="336.10" x2="385.45" y2="336.10" stroke="#000" stroke-width="1.1"/>
<text transform="translate(381.8 339.28775) scale(0.935 1)" font-size="8.62" text-anchor="end" fill="#231f20" stroke="#231f20" stroke-width="0.18">750</text>
<line x1="382.85" y1="327.60" x2="385.45" y2="327.60" stroke="#000" stroke-width="1.1"/>
<text transform="translate(381.8 330.78775) scale(0.935 1)" font-size="8.62" text-anchor="end" fill="#231f20" stroke="#231f20" stroke-width="0.18">1000</text>
<line x1="382.85" y1="319.10" x2="385.45" y2="319.10" stroke="#000" stroke-width="1.1"/>
<text transform="translate(381.8 322.28775) scale(0.935 1)" font-size="8.62" text-anchor="end" fill="#231f20" stroke="#231f20" stroke-width="0.18">1250</text>
<line x1="382.85" y1="310.60" x2="385.45" y2="310.60" stroke="#000" stroke-width="1.1"/>
<text transform="translate(381.8 313.78775) scale(0.935 1)" font-size="8.62" text-anchor="end" fill="#231f20" stroke="#231f20" stroke-width="0.18">1500</text>
<line x1="382.85" y1="302.10" x2="385.45" y2="302.10" stroke="#000" stroke-width="1.1"/>
<text transform="translate(381.8 305.28775) scale(0.935 1)" font-size="8.62" text-anchor="end" fill="#231f20" stroke="#231f20" stroke-width="0.18">1750</text>
<line x1="382.85" y1="293.60" x2="385.45" y2="293.60" stroke="#000" stroke-width="1.1"/>
<text transform="translate(381.8 296.78775) scale(0.935 1)" font-size="8.62" text-anchor="end" fill="#231f20" stroke="#231f20" stroke-width="0.18">2000</text>
<line x1="382.85" y1="285.10" x2="385.45" y2="285.10" stroke="#000" stroke-width="1.1"/>
<text transform="translate(381.8 288.28775) scale(0.935 1)" font-size="8.62" text-anchor="end" fill="#231f20" stroke="#231f20" stroke-width="0.18">2250</text>
<line x1="385.50" y1="361.60" x2="385.50" y2="364.60" stroke="#000" stroke-width="1.1"/>
<text transform="translate(385.5 371.3) scale(0.935 1)" font-size="8.62" text-anchor="middle" fill="#231f20" stroke="#231f20" stroke-width="0.18">0</text>
<line x1="402.06" y1="361.60" x2="402.06" y2="364.60" stroke="#000" stroke-width="1.1"/>
<text transform="translate(402.06 371.3) scale(0.935 1)" font-size="8.62" text-anchor="middle" fill="#231f20" stroke="#231f20" stroke-width="0.18">2</text>
<line x1="418.62" y1="361.60" x2="418.62" y2="364.60" stroke="#000" stroke-width="1.1"/>
<text transform="translate(418.62 371.3) scale(0.935 1)" font-size="8.62" text-anchor="middle" fill="#231f20" stroke="#231f20" stroke-width="0.18">4</text>
<line x1="435.18" y1="361.60" x2="435.18" y2="364.60" stroke="#000" stroke-width="1.1"/>
<text transform="translate(435.18 371.3) scale(0.935 1)" font-size="8.62" text-anchor="middle" fill="#231f20" stroke="#231f20" stroke-width="0.18">6</text>
<line x1="451.74" y1="361.60" x2="451.74" y2="364.60" stroke="#000" stroke-width="1.1"/>
<text transform="translate(451.74 371.3) scale(0.935 1)" font-size="8.62" text-anchor="middle" fill="#231f20" stroke="#231f20" stroke-width="0.18">8</text>
<line x1="468.30" y1="361.60" x2="468.30" y2="364.60" stroke="#000" stroke-width="1.1"/>
<text transform="translate(468.3 371.3) scale(0.935 1)" font-size="8.62" text-anchor="middle" fill="#231f20" stroke="#231f20" stroke-width="0.18">10</text>
<line x1="484.86" y1="361.60" x2="484.86" y2="364.60" stroke="#000" stroke-width="1.1"/>
<text transform="translate(484.86 371.3) scale(0.935 1)" font-size="8.62" text-anchor="middle" fill="#231f20" stroke="#231f20" stroke-width="0.18">12</text>
<line x1="501.42" y1="361.60" x2="501.42" y2="364.60" stroke="#000" stroke-width="1.1"/>
<text transform="translate(501.41999999999996 371.3) scale(0.935 1)" font-size="8.62" text-anchor="middle" fill="#231f20" stroke="#231f20" stroke-width="0.18">14</text>
<text transform="translate(445.5 291.2) scale(0.926 1)" font-size="7.99" text-anchor="middle" fill="#231f20" stroke="#231f20" stroke-width="0.2">VFN-D1</text>
<text transform="translate(446.5 381)" font-size="9.77" text-anchor="middle" textLength="26.5" lengthAdjust="spacingAndGlyphs" fill="#231f20" stroke="#231f20" stroke-width="0.14">Time [d]</text>
<text transform="translate(356.2 358.55) rotate(-90)" font-size="9.77" textLength="65.9" lengthAdjust="spacingAndGlyphs" fill="#231f20" stroke="#231f20" stroke-width="0.14">Tumor volume [mm</text>
<text transform="translate(353.3 291.54999999999995) rotate(-90) scale(0.85 1)" font-size="7" fill="#231f20" stroke="#231f20" stroke-width="0.2">3</text>
<text transform="translate(356.2 287.55) rotate(-90)" font-size="9.77" textLength="2.3" lengthAdjust="spacingAndGlyphs" fill="#231f20" stroke="#231f20" stroke-width="0.14">]</text>
<path d="M385.50 359.09L393.78 359.09L410.34 358.79L435.18 357.50L451.74 354.89L468.30 351.81L484.86 350.01L501.42 345.30" fill="none" stroke="#552370" stroke-width="1.15" stroke-linejoin="round"/>
<line x1="385.50" y1="358.29" x2="385.50" y2="359.89" stroke="#552370" stroke-width="1.05"/>
<line x1="383.70" y1="358.29" x2="387.30" y2="358.29" stroke="#552370" stroke-width="1.1"/>
<line x1="383.70" y1="359.89" x2="387.30" y2="359.89" stroke="#552370" stroke-width="1.1"/>
<path d="M385.50 360.79L387.10 357.69L383.90 357.69Z" fill="#552370"/>
<line x1="393.78" y1="358.29" x2="393.78" y2="359.89" stroke="#552370" stroke-width="1.05"/>
<line x1="391.98" y1="358.29" x2="395.58" y2="358.29" stroke="#552370" stroke-width="1.1"/>
<line x1="391.98" y1="359.89" x2="395.58" y2="359.89" stroke="#552370" stroke-width="1.1"/>
<path d="M393.78 360.79L395.38 357.69L392.18 357.69Z" fill="#552370"/>
<line x1="410.34" y1="356.19" x2="410.34" y2="361.39" stroke="#552370" stroke-width="1.05"/>
<line x1="408.54" y1="356.19" x2="412.14" y2="356.19" stroke="#552370" stroke-width="1.1"/>
<line x1="408.54" y1="361.39" x2="412.14" y2="361.39" stroke="#552370" stroke-width="1.1"/>
<path d="M410.34 360.49L411.94 357.39L408.74 357.39Z" fill="#552370"/>
<line x1="435.18" y1="356.30" x2="435.18" y2="358.70" stroke="#552370" stroke-width="1.05"/>
<line x1="433.38" y1="356.30" x2="436.98" y2="356.30" stroke="#552370" stroke-width="1.1"/>
<line x1="433.38" y1="358.70" x2="436.98" y2="358.70" stroke="#552370" stroke-width="1.1"/>
<path d="M435.18 359.20L436.78 356.10L433.58 356.10Z" fill="#552370"/>
<line x1="451.74" y1="352.39" x2="451.74" y2="357.39" stroke="#552370" stroke-width="1.05"/>
<line x1="449.94" y1="352.39" x2="453.54" y2="352.39" stroke="#552370" stroke-width="1.1"/>
<line x1="449.94" y1="357.39" x2="453.54" y2="357.39" stroke="#552370" stroke-width="1.1"/>
<path d="M451.74 356.59L453.34 353.49L450.14 353.49Z" fill="#552370"/>
<line x1="468.30" y1="348.81" x2="468.30" y2="354.81" stroke="#552370" stroke-width="1.05"/>
<line x1="466.50" y1="348.81" x2="470.10" y2="348.81" stroke="#552370" stroke-width="1.1"/>
<line x1="466.50" y1="354.81" x2="470.10" y2="354.81" stroke="#552370" stroke-width="1.1"/>
<path d="M468.30 353.51L469.90 350.41L466.70 350.41Z" fill="#552370"/>
<line x1="484.86" y1="346.01" x2="484.86" y2="354.01" stroke="#552370" stroke-width="1.05"/>
<line x1="483.06" y1="346.01" x2="486.66" y2="346.01" stroke="#552370" stroke-width="1.1"/>
<line x1="483.06" y1="354.01" x2="486.66" y2="354.01" stroke="#552370" stroke-width="1.1"/>
<path d="M484.86 351.71L486.46 348.61L483.26 348.61Z" fill="#552370"/>
<line x1="501.42" y1="339.80" x2="501.42" y2="350.80" stroke="#552370" stroke-width="1.05"/>
<line x1="499.62" y1="339.80" x2="503.22" y2="339.80" stroke="#552370" stroke-width="1.1"/>
<line x1="499.62" y1="350.80" x2="503.22" y2="350.80" stroke="#552370" stroke-width="1.1"/>
<path d="M501.42 347.00L503.02 343.90L499.82 343.90Z" fill="#552370"/>
<path d="M385.50 359.09L393.78 359.09L410.34 353.71L435.18 349.50L451.74 343.30L468.30 335.68L484.86 328.80L501.42 318.81" fill="none" stroke="#2fb34a" stroke-width="1.15" stroke-linejoin="round"/>
<line x1="385.50" y1="358.29" x2="385.50" y2="359.89" stroke="#2fb34a" stroke-width="1.05"/>
<line x1="383.70" y1="358.29" x2="387.30" y2="358.29" stroke="#2fb34a" stroke-width="1.1"/>
<line x1="383.70" y1="359.89" x2="387.30" y2="359.89" stroke="#2fb34a" stroke-width="1.1"/>
<path d="M385.50 357.39L387.10 360.49L383.90 360.49Z" fill="#2fb34a"/>
<line x1="393.78" y1="358.29" x2="393.78" y2="359.89" stroke="#2fb34a" stroke-width="1.05"/>
<line x1="391.98" y1="358.29" x2="395.58" y2="358.29" stroke="#2fb34a" stroke-width="1.1"/>
<line x1="391.98" y1="359.89" x2="395.58" y2="359.89" stroke="#2fb34a" stroke-width="1.1"/>
<path d="M393.78 357.39L395.38 360.49L392.18 360.49Z" fill="#2fb34a"/>
<line x1="410.34" y1="351.71" x2="410.34" y2="355.71" stroke="#2fb34a" stroke-width="1.05"/>
<line x1="408.54" y1="351.71" x2="412.14" y2="351.71" stroke="#2fb34a" stroke-width="1.1"/>
<line x1="408.54" y1="355.71" x2="412.14" y2="355.71" stroke="#2fb34a" stroke-width="1.1"/>
<path d="M410.34 352.01L411.94 355.11L408.74 355.11Z" fill="#2fb34a"/>
<line x1="435.18" y1="347.90" x2="435.18" y2="351.10" stroke="#2fb34a" stroke-width="1.05"/>
<line x1="433.38" y1="347.90" x2="436.98" y2="347.90" stroke="#2fb34a" stroke-width="1.1"/>
<line x1="433.38" y1="351.10" x2="436.98" y2="351.10" stroke="#2fb34a" stroke-width="1.1"/>
<path d="M435.18 347.80L436.78 350.90L433.58 350.90Z" fill="#2fb34a"/>
<line x1="451.74" y1="339.30" x2="451.74" y2="347.30" stroke="#2fb34a" stroke-width="1.05"/>
<line x1="449.94" y1="339.30" x2="453.54" y2="339.30" stroke="#2fb34a" stroke-width="1.1"/>
<line x1="449.94" y1="347.30" x2="453.54" y2="347.30" stroke="#2fb34a" stroke-width="1.1"/>
<path d="M451.74 341.60L453.34 344.70L450.14 344.70Z" fill="#2fb34a"/>
<line x1="468.30" y1="330.68" x2="468.30" y2="340.68" stroke="#2fb34a" stroke-width="1.05"/>
<line x1="466.50" y1="330.68" x2="470.10" y2="330.68" stroke="#2fb34a" stroke-width="1.1"/>
<line x1="466.50" y1="340.68" x2="470.10" y2="340.68" stroke="#2fb34a" stroke-width="1.1"/>
<path d="M468.30 333.98L469.90 337.08L466.70 337.08Z" fill="#2fb34a"/>
<line x1="484.86" y1="324.80" x2="484.86" y2="332.80" stroke="#2fb34a" stroke-width="1.05"/>
<line x1="483.06" y1="324.80" x2="486.66" y2="324.80" stroke="#2fb34a" stroke-width="1.1"/>
<line x1="483.06" y1="332.80" x2="486.66" y2="332.80" stroke="#2fb34a" stroke-width="1.1"/>
<path d="M484.86 327.10L486.46 330.20L483.26 330.20Z" fill="#2fb34a"/>
<line x1="501.42" y1="314.81" x2="501.42" y2="322.81" stroke="#2fb34a" stroke-width="1.05"/>
<line x1="499.62" y1="314.81" x2="503.22" y2="314.81" stroke="#2fb34a" stroke-width="1.1"/>
<line x1="499.62" y1="322.81" x2="503.22" y2="322.81" stroke="#2fb34a" stroke-width="1.1"/>
<path d="M501.42 317.11L503.02 320.21L499.82 320.21Z" fill="#2fb34a"/>
<path d="M385.50 359.09L393.78 359.09L410.34 355.30L435.18 351.30L451.74 345.68L468.30 341.10L484.86 328.80L501.42 317.28" fill="none" stroke="#145085" stroke-width="1.15" stroke-linejoin="round"/>
<line x1="385.50" y1="358.29" x2="385.50" y2="359.89" stroke="#145085" stroke-width="1.05"/>
<line x1="383.70" y1="358.29" x2="387.30" y2="358.29" stroke="#145085" stroke-width="1.1"/>
<line x1="383.70" y1="359.89" x2="387.30" y2="359.89" stroke="#145085" stroke-width="1.1"/>
<rect x="384.10" y="357.69" width="2.8" height="2.8" fill="#145085"/>
<line x1="393.78" y1="358.29" x2="393.78" y2="359.89" stroke="#145085" stroke-width="1.05"/>
<line x1="391.98" y1="358.29" x2="395.58" y2="358.29" stroke="#145085" stroke-width="1.1"/>
<line x1="391.98" y1="359.89" x2="395.58" y2="359.89" stroke="#145085" stroke-width="1.1"/>
<rect x="392.38" y="357.69" width="2.8" height="2.8" fill="#145085"/>
<line x1="410.34" y1="352.90" x2="410.34" y2="357.70" stroke="#145085" stroke-width="1.05"/>
<line x1="408.54" y1="352.90" x2="412.14" y2="352.90" stroke="#145085" stroke-width="1.1"/>
<line x1="408.54" y1="357.70" x2="412.14" y2="357.70" stroke="#145085" stroke-width="1.1"/>
<rect x="408.94" y="353.90" width="2.8" height="2.8" fill="#145085"/>
<line x1="435.18" y1="349.50" x2="435.18" y2="353.10" stroke="#145085" stroke-width="1.05"/>
<line x1="433.38" y1="349.50" x2="436.98" y2="349.50" stroke="#145085" stroke-width="1.1"/>
<line x1="433.38" y1="353.10" x2="436.98" y2="353.10" stroke="#145085" stroke-width="1.1"/>
<rect x="433.78" y="349.90" width="2.8" height="2.8" fill="#145085"/>
<line x1="451.74" y1="341.18" x2="451.74" y2="350.18" stroke="#145085" stroke-width="1.05"/>
<line x1="449.94" y1="341.18" x2="453.54" y2="341.18" stroke="#145085" stroke-width="1.1"/>
<line x1="449.94" y1="350.18" x2="453.54" y2="350.18" stroke="#145085" stroke-width="1.1"/>
<rect x="450.34" y="344.28" width="2.8" height="2.8" fill="#145085"/>
<line x1="468.30" y1="335.60" x2="468.30" y2="346.60" stroke="#145085" stroke-width="1.05"/>
<line x1="466.50" y1="335.60" x2="470.10" y2="335.60" stroke="#145085" stroke-width="1.1"/>
<line x1="466.50" y1="346.60" x2="470.10" y2="346.60" stroke="#145085" stroke-width="1.1"/>
<rect x="466.90" y="339.70" width="2.8" height="2.8" fill="#145085"/>
<line x1="484.86" y1="324.30" x2="484.86" y2="333.30" stroke="#145085" stroke-width="1.05"/>
<line x1="483.06" y1="324.30" x2="486.66" y2="324.30" stroke="#145085" stroke-width="1.1"/>
<line x1="483.06" y1="333.30" x2="486.66" y2="333.30" stroke="#145085" stroke-width="1.1"/>
<rect x="483.46" y="327.40" width="2.8" height="2.8" fill="#145085"/>
<line x1="501.42" y1="312.78" x2="501.42" y2="321.78" stroke="#145085" stroke-width="1.05"/>
<line x1="499.62" y1="312.78" x2="503.22" y2="312.78" stroke="#145085" stroke-width="1.1"/>
<line x1="499.62" y1="321.78" x2="503.22" y2="321.78" stroke="#145085" stroke-width="1.1"/>
<rect x="500.02" y="315.88" width="2.8" height="2.8" fill="#145085"/>
<path d="M385.50 359.09L393.78 359.09L410.34 350.01L435.18 345.68L451.74 338.80L468.30 324.09L484.86 309.49L501.42 299.50" fill="none" stroke="#c8102e" stroke-width="1.15" stroke-linejoin="round"/>
<line x1="385.50" y1="358.29" x2="385.50" y2="359.89" stroke="#c8102e" stroke-width="1.05"/>
<line x1="383.70" y1="358.29" x2="387.30" y2="358.29" stroke="#c8102e" stroke-width="1.1"/>
<line x1="383.70" y1="359.89" x2="387.30" y2="359.89" stroke="#c8102e" stroke-width="1.1"/>
<circle cx="385.50" cy="359.09" r="1.4" fill="#c8102e"/>
<line x1="393.78" y1="358.29" x2="393.78" y2="359.89" stroke="#c8102e" stroke-width="1.05"/>
<line x1="391.98" y1="358.29" x2="395.58" y2="358.29" stroke="#c8102e" stroke-width="1.1"/>
<line x1="391.98" y1="359.89" x2="395.58" y2="359.89" stroke="#c8102e" stroke-width="1.1"/>
<circle cx="393.78" cy="359.09" r="1.4" fill="#c8102e"/>
<line x1="410.34" y1="346.51" x2="410.34" y2="353.51" stroke="#c8102e" stroke-width="1.05"/>
<line x1="408.54" y1="346.51" x2="412.14" y2="346.51" stroke="#c8102e" stroke-width="1.1"/>
<line x1="408.54" y1="353.51" x2="412.14" y2="353.51" stroke="#c8102e" stroke-width="1.1"/>
<circle cx="410.34" cy="350.01" r="1.4" fill="#c8102e"/>
<line x1="435.18" y1="342.48" x2="435.18" y2="348.88" stroke="#c8102e" stroke-width="1.05"/>
<line x1="433.38" y1="342.48" x2="436.98" y2="342.48" stroke="#c8102e" stroke-width="1.1"/>
<line x1="433.38" y1="348.88" x2="436.98" y2="348.88" stroke="#c8102e" stroke-width="1.1"/>
<circle cx="435.18" cy="345.68" r="1.4" fill="#c8102e"/>
<line x1="451.74" y1="335.30" x2="451.74" y2="342.30" stroke="#c8102e" stroke-width="1.05"/>
<line x1="449.94" y1="335.30" x2="453.54" y2="335.30" stroke="#c8102e" stroke-width="1.1"/>
<line x1="449.94" y1="342.30" x2="453.54" y2="342.30" stroke="#c8102e" stroke-width="1.1"/>
<circle cx="451.74" cy="338.80" r="1.4" fill="#c8102e"/>
<line x1="468.30" y1="319.59" x2="468.30" y2="328.59" stroke="#c8102e" stroke-width="1.05"/>
<line x1="466.50" y1="319.59" x2="470.10" y2="319.59" stroke="#c8102e" stroke-width="1.1"/>
<line x1="466.50" y1="328.59" x2="470.10" y2="328.59" stroke="#c8102e" stroke-width="1.1"/>
<circle cx="468.30" cy="324.09" r="1.4" fill="#c8102e"/>
<line x1="484.86" y1="305.49" x2="484.86" y2="313.49" stroke="#c8102e" stroke-width="1.05"/>
<line x1="483.06" y1="305.49" x2="486.66" y2="305.49" stroke="#c8102e" stroke-width="1.1"/>
<line x1="483.06" y1="313.49" x2="486.66" y2="313.49" stroke="#c8102e" stroke-width="1.1"/>
<circle cx="484.86" cy="309.49" r="1.4" fill="#c8102e"/>
<line x1="501.42" y1="292.50" x2="501.42" y2="306.50" stroke="#c8102e" stroke-width="1.05"/>
<line x1="499.62" y1="292.50" x2="503.22" y2="292.50" stroke="#c8102e" stroke-width="1.1"/>
<line x1="499.62" y1="306.50" x2="503.22" y2="306.50" stroke="#c8102e" stroke-width="1.1"/>
<circle cx="501.42" cy="299.50" r="1.4" fill="#c8102e"/>
<text transform="translate(509.8 323.9)" font-size="9" text-anchor="middle" font-weight="bold" textLength="10.6" lengthAdjust="spacingAndGlyphs" fill="#000">***</text>
<text transform="translate(509.8 350.2)" font-size="9" text-anchor="middle" font-weight="bold" textLength="10.6" lengthAdjust="spacingAndGlyphs" fill="#000">***</text>
<line x1="378.40" y1="392.70" x2="385.80" y2="392.70" stroke="#c8102e" stroke-width="1.0"/>
<circle cx="382.10" cy="392.70" r="1.3" fill="#c8102e"/>
<text transform="translate(390.8 395.385) scale(1.0 1)" font-size="7.5" fill="#231f20" stroke="#231f20" stroke-width="0.12">Vehicle</text>
<line x1="378.40" y1="401.90" x2="385.80" y2="401.90" stroke="#145085" stroke-width="1.0"/>
<rect x="380.80" y="400.60" width="2.6" height="2.6" fill="#145085"/>
<text transform="translate(390.8 404.585) scale(1.0 1)" font-size="7.5" fill="#231f20" stroke="#231f20" stroke-width="0.12">ABT-199</text>
<line x1="432.60" y1="392.70" x2="440.00" y2="392.70" stroke="#2fb34a" stroke-width="1.0"/>
<path d="M436.30 391.10L437.80 394.00L434.80 394.00Z" fill="#2fb34a"/>
<text transform="translate(444.4 395.385) scale(1.0 1)" font-size="7.5" fill="#231f20" stroke="#231f20" stroke-width="0.12">DMF</text>
<line x1="432.60" y1="401.90" x2="440.00" y2="401.90" stroke="#552370" stroke-width="1.0"/>
<path d="M436.30 403.50L437.80 400.60L434.80 400.60Z" fill="#552370"/>
<text transform="translate(444.4 404.585) scale(1.0 1)" font-size="7.5" fill="#231f20" stroke="#231f20" stroke-width="0.12">DMF + ABT-199</text>
</svg>
</body></html>
